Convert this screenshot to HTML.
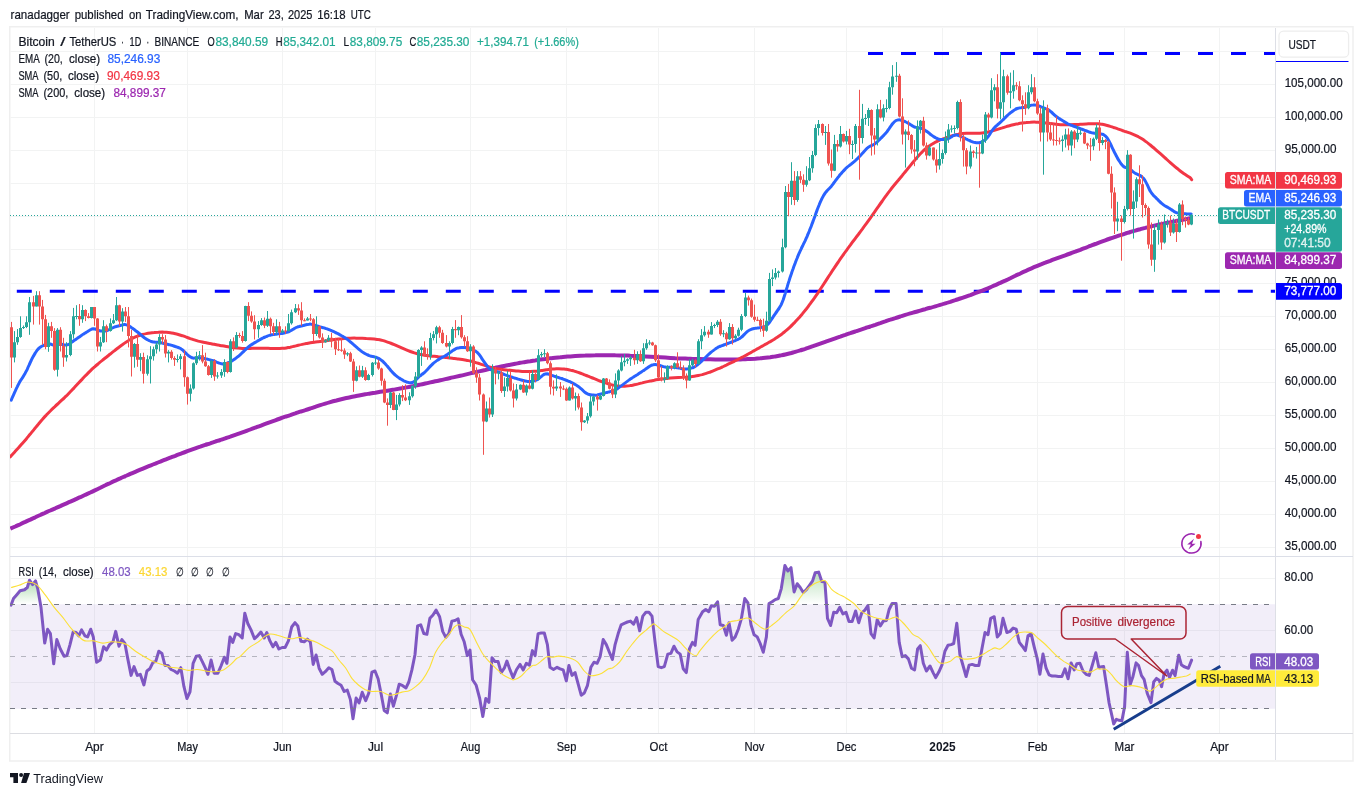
<!DOCTYPE html><html><head><meta charset="utf-8"><title>BTCUSDT</title>
<style>html,body{margin:0;padding:0;background:#fff}body{width:1363px;height:796px;overflow:hidden}svg{display:block;will-change:transform;opacity:0.999}text{font-family:"Liberation Sans",sans-serif}</style></head><body>
<svg width="1363" height="796" viewBox="0 0 1363 796">
<defs><linearGradient id="gg" x1="0" y1="0" x2="0" y2="1"><stop offset="0" stop-color="#4caf50" stop-opacity="0.45"/><stop offset="1" stop-color="#4caf50" stop-opacity="0"/></linearGradient>
<linearGradient id="rg" gradientUnits="userSpaceOnUse" x1="0" y1="708" x2="0" y2="726"><stop offset="0" stop-color="#ff5252" stop-opacity="0"/><stop offset="1" stop-color="#ff5252" stop-opacity="0.16"/></linearGradient><clipPath id="cm"><rect x="10" y="28" width="1265.5" height="528"/></clipPath><clipPath id="cr"><rect x="10" y="557" width="1265.5" height="176"/></clipPath></defs>
<rect width="1363" height="796" fill="#fff"/>
<rect x="9.75" y="26.75" width="1343.25" height="734.25" fill="#fff" stroke="#efefef" stroke-width="1.5"/>
<path d="M94.5 28V733M187.5 28V733M282.5 28V733M375.5 28V733M470.5 28V733M566.5 28V733M658.5 28V733M754.5 28V733M846.5 28V733M942.5 28V733M1037.5 28V733M1124.5 28V733M1219.5 28V733M10.5 547.5H1275M10.5 514.5H1275M10.5 481.5H1275M10.5 448.5H1275M10.5 415.5H1275M10.5 382.5H1275M10.5 349.5H1275M10.5 316.5H1275M10.5 283.5H1275M10.5 249.5H1275M10.5 216.5H1275M10.5 183.5H1275M10.5 150.5H1275M10.5 117.5H1275M10.5 84.5H1275M10.5 51.5H1275M10.5 578.5H1275M10.5 630.5H1275M10.5 682.5H1275" stroke="#f2f3f3" stroke-width="1" fill="none"/>
<rect x="10.5" y="604.2" width="1264.5" height="104.6" fill="#7e57c2" fill-opacity="0.1"/>
<g clip-path="url(#cm)">
<path d="M16.8 291.2H1275.5" stroke="#0000ff" stroke-width="3" stroke-dasharray="15 18" fill="none"/>
<path d="M868 53.5H1275.5" stroke="#0000ff" stroke-width="3" stroke-dasharray="15 18" fill="none"/>
<path d="M10.3 528.7C11.1 528.3 13.6 527.2 15.3 526.5C16.9 525.7 18.6 525.0 20.3 524.2C21.9 523.4 23.6 522.6 25.3 521.9C26.9 521.1 28.6 520.3 30.3 519.6C31.9 518.8 33.6 518.0 35.3 517.3C36.9 516.5 38.6 515.7 40.3 515.0C41.9 514.2 43.6 513.5 45.3 512.7C46.9 512.0 48.6 511.2 50.3 510.5C51.9 509.7 53.6 509.0 55.3 508.3C56.9 507.5 58.6 506.8 60.3 506.1C61.9 505.3 63.6 504.6 65.3 503.9C66.9 503.2 68.6 502.4 70.3 501.7C71.9 500.9 73.6 500.2 75.3 499.4C76.9 498.7 78.6 497.9 80.3 497.2C81.9 496.4 83.6 495.6 85.3 494.8C86.9 494.1 88.6 493.3 90.3 492.5C91.9 491.7 93.6 490.9 95.3 490.1C96.9 489.3 98.6 488.5 100.3 487.7C101.9 486.9 103.6 486.1 105.3 485.3C106.9 484.5 108.6 483.8 110.3 483.0C111.9 482.2 113.6 481.4 115.3 480.7C116.9 479.9 118.6 479.1 120.3 478.4C121.9 477.6 123.6 476.9 125.3 476.1C126.9 475.4 128.6 474.7 130.3 473.9C131.9 473.2 133.6 472.5 135.3 471.8C136.9 471.1 138.6 470.4 140.3 469.7C141.9 469.0 143.6 468.3 145.3 467.6C146.9 466.9 148.6 466.3 150.3 465.6C151.9 464.9 153.6 464.2 155.3 463.6C156.9 462.9 158.6 462.2 160.3 461.6C161.9 460.9 163.6 460.3 165.3 459.6C166.9 459.0 168.6 458.3 170.3 457.7C171.9 457.1 173.6 456.4 175.3 455.8C176.9 455.1 178.6 454.5 180.3 453.9C181.9 453.3 183.6 452.6 185.3 452.0C186.9 451.4 188.6 450.8 190.3 450.2C191.9 449.6 193.6 449.0 195.3 448.4C196.9 447.8 198.6 447.2 200.3 446.7C201.9 446.1 203.6 445.5 205.3 444.9C206.9 444.4 208.6 443.8 210.3 443.3C211.9 442.7 213.6 442.2 215.3 441.6C216.9 441.1 218.6 440.5 220.3 440.0C221.9 439.4 223.6 438.9 225.3 438.3C226.9 437.8 228.6 437.2 230.3 436.7C231.9 436.1 233.6 435.5 235.3 434.9C236.9 434.4 238.6 433.8 240.3 433.2C241.9 432.6 243.6 432.0 245.3 431.4C246.9 430.8 248.6 430.2 250.3 429.5C251.9 428.9 253.6 428.3 255.3 427.7C256.9 427.1 258.6 426.4 260.3 425.8C261.9 425.2 263.6 424.5 265.3 423.9C266.9 423.3 268.6 422.7 270.3 422.1C271.9 421.5 273.6 420.9 275.3 420.3C276.9 419.7 278.6 419.1 280.3 418.5C281.9 417.9 283.6 417.3 285.3 416.7C286.9 416.2 288.6 415.6 290.3 415.1C291.9 414.5 293.6 413.9 295.3 413.4C296.9 412.8 298.6 412.3 300.3 411.7C301.9 411.2 303.6 410.6 305.3 410.1C306.9 409.5 308.6 409.0 310.3 408.5C311.9 407.9 313.6 407.4 315.3 406.8C316.9 406.3 318.6 405.8 320.3 405.2C321.9 404.7 323.6 404.2 325.3 403.7C326.9 403.2 328.6 402.7 330.3 402.2C331.9 401.7 333.6 401.2 335.3 400.8C336.9 400.3 338.6 399.9 340.3 399.5C341.9 399.1 343.6 398.7 345.3 398.3C346.9 397.9 348.6 397.6 350.3 397.2C351.9 396.8 353.6 396.5 355.3 396.2C356.9 395.9 358.6 395.5 360.3 395.2C361.9 394.9 363.6 394.6 365.3 394.3C366.9 394.0 368.6 393.8 370.3 393.5C371.9 393.2 373.6 392.9 375.3 392.7C376.9 392.4 378.6 392.1 380.3 391.8C381.9 391.6 383.6 391.3 385.3 391.0C386.9 390.8 388.6 390.5 390.3 390.2C391.9 389.9 393.6 389.7 395.3 389.4C396.9 389.1 398.6 388.8 400.3 388.5C401.9 388.2 403.6 387.9 405.3 387.6C406.9 387.3 408.6 387.0 410.3 386.7C411.9 386.3 413.6 386.0 415.3 385.6C416.9 385.3 418.6 385.0 420.3 384.6C421.9 384.3 423.6 383.9 425.3 383.5C426.9 383.2 428.6 382.8 430.3 382.4C431.9 382.1 433.6 381.7 435.3 381.3C436.9 381.0 438.6 380.6 440.3 380.2C441.9 379.9 443.6 379.5 445.3 379.1C446.9 378.8 448.6 378.4 450.3 378.0C451.9 377.6 453.6 377.3 455.3 376.9C456.9 376.5 458.6 376.1 460.3 375.7C461.9 375.4 463.6 375.0 465.3 374.6C466.9 374.2 468.6 373.8 470.3 373.4C471.9 373.0 473.6 372.7 475.3 372.3C476.9 371.9 478.6 371.5 480.3 371.1C481.9 370.7 483.6 370.3 485.3 370.0C486.9 369.6 488.6 369.2 490.3 368.9C491.9 368.5 493.6 368.1 495.3 367.8C496.9 367.4 498.6 367.1 500.3 366.7C501.9 366.4 503.6 366.0 505.3 365.7C506.9 365.4 508.6 365.0 510.3 364.7C511.9 364.4 513.6 364.1 515.3 363.8C516.9 363.5 518.6 363.1 520.3 362.8C521.9 362.5 523.6 362.3 525.3 362.0C526.9 361.7 528.6 361.4 530.3 361.2C531.9 360.9 533.6 360.6 535.3 360.4C536.9 360.1 538.6 359.9 540.3 359.6C541.9 359.4 543.6 359.2 545.3 359.0C546.9 358.7 548.6 358.5 550.3 358.3C551.9 358.1 553.6 358.0 555.3 357.8C556.9 357.6 558.6 357.4 560.3 357.3C561.9 357.1 563.6 357.0 565.3 356.8C566.9 356.7 568.6 356.5 570.3 356.4C571.9 356.3 573.6 356.2 575.3 356.1C576.9 356.0 578.6 355.9 580.3 355.8C581.9 355.7 583.6 355.6 585.3 355.6C586.9 355.5 588.6 355.4 590.3 355.4C591.9 355.3 593.6 355.3 595.3 355.3C596.9 355.2 598.6 355.2 600.3 355.2C601.9 355.2 603.6 355.2 605.3 355.2C606.9 355.2 608.6 355.2 610.3 355.2C611.9 355.2 613.6 355.2 615.3 355.3C616.9 355.3 618.6 355.3 620.3 355.4C621.9 355.4 623.6 355.5 625.3 355.5C626.9 355.6 628.6 355.6 630.3 355.7C631.9 355.7 633.6 355.8 635.3 355.9C636.9 356.0 638.6 356.1 640.3 356.1C641.9 356.2 643.6 356.3 645.3 356.4C646.9 356.5 648.6 356.6 650.3 356.7C651.9 356.8 653.6 356.9 655.3 357.0C656.9 357.1 658.6 357.2 660.3 357.3C661.9 357.4 663.6 357.5 665.3 357.6C666.9 357.7 668.6 357.8 670.3 357.9C671.9 358.0 673.6 358.1 675.3 358.2C676.9 358.2 678.6 358.3 680.3 358.4C681.9 358.5 683.6 358.6 685.3 358.6C686.9 358.7 688.6 358.8 690.3 358.8C691.9 358.9 693.6 358.9 695.3 359.0C696.9 359.0 698.6 359.1 700.3 359.1C701.9 359.2 703.6 359.2 705.3 359.2C706.9 359.3 708.6 359.3 710.3 359.3C711.9 359.4 713.6 359.4 715.3 359.4C716.9 359.5 718.6 359.5 720.3 359.5C721.9 359.5 723.6 359.5 725.3 359.5C726.9 359.5 728.6 359.5 730.3 359.5C731.9 359.5 733.6 359.5 735.3 359.5C736.9 359.5 738.6 359.4 740.3 359.4C741.9 359.3 743.6 359.3 745.3 359.2C746.9 359.1 748.6 359.1 750.3 359.0C751.9 358.9 753.6 358.8 755.3 358.7C756.9 358.5 758.6 358.4 760.3 358.3C761.9 358.1 763.6 358.0 765.3 357.8C766.9 357.6 768.6 357.4 770.3 357.2C771.9 356.9 773.6 356.7 775.3 356.4C776.9 356.2 778.6 355.9 780.3 355.5C781.9 355.2 783.6 354.9 785.3 354.5C786.9 354.1 788.6 353.7 790.3 353.3C791.9 352.8 793.6 352.4 795.3 351.9C796.9 351.4 798.6 350.9 800.3 350.4C801.9 349.9 803.6 349.3 805.3 348.8C806.9 348.2 808.6 347.7 810.3 347.1C811.9 346.5 813.6 346.0 815.3 345.4C816.9 344.8 818.6 344.2 820.3 343.6C821.9 343.0 823.6 342.4 825.3 341.8C826.9 341.2 828.6 340.7 830.3 340.1C831.9 339.5 833.6 338.9 835.3 338.3C836.9 337.7 838.6 337.1 840.3 336.6C841.9 336.0 843.6 335.4 845.3 334.9C846.9 334.3 848.6 333.7 850.3 333.2C851.9 332.6 853.6 332.0 855.3 331.5C856.9 330.9 858.6 330.4 860.3 329.8C861.9 329.3 863.6 328.7 865.3 328.1C866.9 327.6 868.6 327.0 870.3 326.5C871.9 325.9 873.6 325.3 875.3 324.8C876.9 324.2 878.6 323.6 880.3 323.1C881.9 322.5 883.6 321.9 885.3 321.4C886.9 320.8 888.6 320.2 890.3 319.7C891.9 319.1 893.6 318.6 895.3 318.1C896.9 317.5 898.6 317.0 900.3 316.5C901.9 315.9 903.6 315.4 905.3 314.9C906.9 314.4 908.6 313.9 910.3 313.4C911.9 312.9 913.6 312.5 915.3 312.0C916.9 311.5 918.6 311.1 920.3 310.6C921.9 310.1 923.6 309.6 925.3 309.2C926.9 308.7 928.6 308.2 930.3 307.8C931.9 307.3 933.6 306.8 935.3 306.3C936.9 305.8 938.6 305.3 940.3 304.8C941.9 304.3 943.6 303.8 945.3 303.3C946.9 302.8 948.6 302.3 950.3 301.8C951.9 301.2 953.6 300.7 955.3 300.2C956.9 299.6 958.6 299.1 960.3 298.5C961.9 297.9 963.6 297.4 965.3 296.8C966.9 296.2 968.6 295.6 970.3 295.1C971.9 294.5 973.6 293.8 975.3 293.2C976.9 292.6 978.6 292.0 980.3 291.3C981.9 290.7 983.6 290.0 985.3 289.3C986.9 288.7 988.6 288.0 990.3 287.3C991.9 286.6 993.6 285.8 995.3 285.1C996.9 284.4 998.6 283.6 1000.3 282.9C1001.9 282.1 1003.6 281.3 1005.3 280.6C1006.9 279.8 1008.6 279.0 1010.3 278.2C1011.9 277.4 1013.6 276.6 1015.3 275.8C1016.9 275.0 1018.6 274.3 1020.3 273.5C1021.9 272.7 1023.6 271.9 1025.3 271.2C1026.9 270.4 1028.6 269.6 1030.3 268.9C1031.9 268.2 1033.6 267.4 1035.3 266.7C1036.9 266.0 1038.6 265.3 1040.3 264.6C1041.9 264.0 1043.6 263.3 1045.3 262.7C1046.9 262.0 1048.6 261.4 1050.3 260.8C1051.9 260.1 1053.6 259.5 1055.3 258.9C1056.9 258.3 1058.6 257.7 1060.3 257.1C1061.9 256.5 1063.6 255.9 1065.3 255.3C1066.9 254.7 1068.6 254.1 1070.3 253.5C1071.9 252.9 1073.6 252.3 1075.3 251.7C1076.9 251.0 1078.6 250.4 1080.3 249.8C1081.9 249.1 1083.6 248.5 1085.3 247.9C1086.9 247.2 1088.6 246.6 1090.3 245.9C1091.9 245.3 1093.6 244.6 1095.3 244.0C1096.9 243.4 1098.6 242.7 1100.3 242.1C1101.9 241.5 1103.6 240.9 1105.3 240.3C1106.9 239.7 1108.6 239.1 1110.3 238.5C1111.9 237.9 1113.6 237.4 1115.3 236.8C1116.9 236.2 1118.6 235.7 1120.3 235.2C1121.9 234.6 1123.6 234.1 1125.3 233.6C1126.9 233.1 1128.6 232.5 1130.3 232.0C1131.9 231.6 1133.6 231.1 1135.3 230.6C1136.9 230.1 1138.6 229.6 1140.3 229.2C1141.9 228.7 1143.6 228.3 1145.3 227.9C1146.9 227.4 1148.6 227.0 1150.3 226.6C1151.9 226.2 1153.6 225.8 1155.3 225.4C1156.9 225.1 1158.6 224.7 1160.3 224.3C1161.9 224.0 1163.6 223.6 1165.3 223.3C1166.9 222.9 1168.6 222.6 1170.3 222.3C1171.9 221.9 1173.6 221.6 1175.3 221.3C1176.9 220.9 1178.6 220.6 1180.3 220.3C1181.9 220.0 1183.6 219.6 1185.3 219.3C1186.9 219.0 1189.2 218.6 1190.3 218.3C1191.3 218.0 1191.4 217.6 1191.7 217.5" stroke="#9c27b0" stroke-width="4" fill="none" stroke-linejoin="round" stroke-linecap="butt"/>
<path d="M10.3 456.8C10.9 456.0 12.9 453.9 14.3 452.4C15.6 451.0 16.9 449.5 18.3 448.0C19.6 446.6 20.9 445.1 22.3 443.5C23.6 442.0 24.9 440.5 26.3 438.9C27.6 437.4 28.9 435.7 30.3 434.1C31.6 432.5 32.9 430.8 34.3 429.1C35.6 427.5 36.9 425.8 38.3 424.2C39.6 422.6 40.9 421.0 42.3 419.5C43.6 418.0 44.9 416.5 46.3 415.1C47.6 413.7 48.9 412.3 50.3 411.0C51.6 409.7 52.9 408.5 54.3 407.2C55.6 405.9 56.9 404.7 58.3 403.5C59.6 402.2 60.9 401.0 62.3 399.7C63.6 398.5 64.9 397.2 66.3 395.9C67.6 394.6 68.9 393.2 70.3 391.8C71.6 390.5 72.9 389.0 74.3 387.6C75.6 386.2 76.9 384.8 78.3 383.3C79.6 381.9 80.9 380.5 82.3 379.1C83.6 377.6 84.9 376.2 86.3 374.9C87.6 373.5 88.9 372.2 90.3 370.9C91.6 369.6 92.9 368.4 94.3 367.2C95.6 365.9 96.9 364.8 98.3 363.7C99.6 362.6 100.9 361.5 102.3 360.4C103.6 359.3 104.9 358.3 106.3 357.2C107.6 356.2 108.9 355.1 110.3 354.0C111.6 353.0 112.9 351.9 114.3 350.9C115.6 349.8 116.9 348.8 118.3 347.7C119.6 346.7 120.9 345.7 122.3 344.7C123.6 343.7 124.9 342.8 126.3 341.9C127.6 341.0 128.9 340.2 130.3 339.5C131.6 338.7 132.9 338.0 134.3 337.4C135.6 336.8 136.9 336.3 138.3 335.8C139.6 335.3 140.9 334.9 142.3 334.5C143.6 334.2 144.9 333.9 146.3 333.6C147.6 333.3 148.9 333.1 150.3 332.9C151.6 332.7 152.9 332.6 154.3 332.5C155.6 332.3 156.9 332.2 158.3 332.2C159.6 332.1 160.9 332.1 162.3 332.1C163.6 332.2 164.9 332.2 166.3 332.3C167.6 332.4 168.9 332.5 170.3 332.7C171.6 332.9 172.9 333.2 174.3 333.5C175.6 333.8 176.9 334.1 178.3 334.5C179.6 334.9 180.9 335.3 182.3 335.7C183.6 336.2 184.9 336.7 186.3 337.1C187.6 337.6 188.9 338.1 190.3 338.6C191.6 339.0 192.9 339.5 194.3 339.9C195.6 340.3 196.9 340.7 198.3 341.1C199.6 341.4 200.9 341.7 202.3 342.0C203.6 342.3 204.9 342.6 206.3 342.8C207.6 343.1 208.9 343.3 210.3 343.6C211.6 343.8 212.9 344.1 214.3 344.3C215.6 344.6 216.9 344.8 218.3 345.1C219.6 345.3 220.9 345.6 222.3 345.8C223.6 346.1 224.9 346.3 226.3 346.5C227.6 346.8 228.9 347.0 230.3 347.2C231.6 347.4 232.9 347.6 234.3 347.8C235.6 347.9 236.9 348.0 238.3 348.1C239.6 348.2 240.9 348.3 242.3 348.4C243.6 348.4 244.9 348.4 246.3 348.4C247.6 348.4 248.9 348.4 250.3 348.4C251.6 348.4 252.9 348.3 254.3 348.3C255.6 348.3 256.9 348.2 258.3 348.2C259.6 348.2 260.9 348.2 262.3 348.2C263.6 348.2 264.9 348.3 266.3 348.3C267.6 348.3 268.9 348.4 270.3 348.4C271.6 348.5 272.9 348.5 274.3 348.5C275.6 348.5 276.9 348.6 278.3 348.5C279.6 348.5 280.9 348.4 282.3 348.3C283.6 348.2 284.9 348.1 286.3 347.9C287.6 347.7 288.9 347.4 290.3 347.2C291.6 346.9 292.9 346.6 294.3 346.3C295.6 346.0 296.9 345.6 298.3 345.3C299.6 345.0 300.9 344.7 302.3 344.4C303.6 344.1 304.9 343.8 306.3 343.5C307.6 343.3 308.9 343.0 310.3 342.8C311.6 342.6 312.9 342.4 314.3 342.2C315.6 342.1 316.9 341.9 318.3 341.7C319.6 341.6 320.9 341.4 322.3 341.3C323.6 341.1 324.9 340.9 326.3 340.7C327.6 340.6 328.9 340.4 330.3 340.2C331.6 340.0 332.9 339.8 334.3 339.6C335.6 339.4 336.9 339.3 338.3 339.1C339.6 338.9 340.9 338.8 342.3 338.7C343.6 338.5 344.9 338.4 346.3 338.3C347.6 338.3 348.9 338.2 350.3 338.2C351.6 338.1 352.9 338.1 354.3 338.1C355.6 338.1 356.9 338.2 358.3 338.2C359.6 338.2 360.9 338.3 362.3 338.3C363.6 338.3 364.9 338.4 366.3 338.5C367.6 338.5 368.9 338.6 370.3 338.7C371.6 338.8 372.9 338.9 374.3 339.0C375.6 339.2 376.9 339.3 378.3 339.6C379.6 339.8 380.9 340.1 382.3 340.4C383.6 340.7 384.9 341.1 386.3 341.6C387.6 342.0 388.9 342.5 390.3 343.0C391.6 343.5 392.9 344.0 394.3 344.6C395.6 345.2 396.9 345.8 398.3 346.4C399.6 347.0 400.9 347.6 402.3 348.2C403.6 348.8 404.9 349.4 406.3 349.9C407.6 350.5 408.9 351.0 410.3 351.5C411.6 352.0 412.9 352.5 414.3 352.9C415.6 353.3 416.9 353.6 418.3 354.0C419.6 354.3 420.9 354.6 422.3 354.8C423.6 355.1 424.9 355.3 426.3 355.4C427.6 355.6 428.9 355.8 430.3 355.9C431.6 356.1 432.9 356.2 434.3 356.3C435.6 356.4 436.9 356.5 438.3 356.7C439.6 356.8 440.9 356.9 442.3 357.1C443.6 357.2 444.9 357.4 446.3 357.5C447.6 357.7 448.9 357.8 450.3 358.0C451.6 358.2 452.9 358.3 454.3 358.5C455.6 358.7 456.9 358.8 458.3 359.0C459.6 359.2 460.9 359.4 462.3 359.6C463.6 359.8 464.9 360.0 466.3 360.2C467.6 360.5 468.9 360.7 470.3 361.0C471.6 361.3 472.9 361.7 474.3 362.1C475.6 362.5 476.9 362.9 478.3 363.3C479.6 363.7 480.9 364.2 482.3 364.6C483.6 365.0 484.9 365.5 486.3 365.9C487.6 366.4 488.9 366.8 490.3 367.1C491.6 367.5 492.9 367.8 494.3 368.1C495.6 368.4 496.9 368.7 498.3 368.9C499.6 369.1 500.9 369.3 502.3 369.5C503.6 369.7 504.9 369.8 506.3 369.9C507.6 370.1 508.9 370.2 510.3 370.3C511.6 370.5 512.9 370.6 514.3 370.7C515.6 370.9 516.9 371.0 518.3 371.1C519.6 371.2 520.9 371.3 522.3 371.4C523.6 371.5 524.9 371.5 526.3 371.6C527.6 371.6 528.9 371.6 530.3 371.6C531.6 371.5 532.9 371.4 534.3 371.3C535.6 371.2 536.9 371.1 538.3 370.9C539.6 370.8 540.9 370.6 542.3 370.4C543.6 370.2 544.9 370.0 546.3 369.8C547.6 369.6 548.9 369.5 550.3 369.3C551.6 369.2 552.9 369.0 554.3 368.9C555.6 368.9 556.9 368.8 558.3 368.8C559.6 368.8 560.9 368.8 562.3 368.9C563.6 369.0 564.9 369.2 566.3 369.3C567.6 369.5 568.9 369.8 570.3 370.1C571.6 370.4 572.9 370.8 574.3 371.1C575.6 371.5 576.9 372.0 578.3 372.4C579.6 372.9 580.9 373.4 582.3 373.9C583.6 374.4 584.9 375.0 586.3 375.5C587.6 376.0 588.9 376.6 590.3 377.1C591.6 377.6 592.9 378.2 594.3 378.7C595.6 379.2 596.9 379.7 598.3 380.3C599.6 380.8 600.9 381.3 602.3 381.8C603.6 382.2 604.9 382.7 606.3 383.1C607.6 383.6 608.9 384.0 610.3 384.4C611.6 384.7 612.9 385.1 614.3 385.4C615.6 385.6 616.9 385.9 618.3 386.0C619.6 386.2 620.9 386.3 622.3 386.3C623.6 386.3 624.9 386.3 626.3 386.1C627.6 386.0 628.9 385.9 630.3 385.6C631.6 385.4 632.9 385.1 634.3 384.8C635.6 384.5 636.9 384.2 638.3 383.9C639.6 383.5 640.9 383.2 642.3 382.9C643.6 382.5 644.9 382.2 646.3 381.9C647.6 381.6 648.9 381.3 650.3 381.0C651.6 380.8 652.9 380.5 654.3 380.3C655.6 380.0 656.9 379.8 658.3 379.6C659.6 379.4 660.9 379.2 662.3 379.0C663.6 378.8 664.9 378.7 666.3 378.5C667.6 378.3 668.9 378.2 670.3 378.0C671.6 377.9 672.9 377.8 674.3 377.7C675.6 377.6 676.9 377.5 678.3 377.4C679.6 377.3 680.9 377.2 682.3 377.2C683.6 377.1 684.9 377.0 686.3 377.0C687.6 376.9 688.9 376.8 690.3 376.7C691.6 376.5 692.9 376.4 694.3 376.2C695.6 376.0 696.9 375.8 698.3 375.5C699.6 375.2 700.9 374.9 702.3 374.6C703.6 374.2 704.9 373.8 706.3 373.4C707.6 373.0 708.9 372.5 710.3 372.0C711.6 371.5 712.9 371.0 714.3 370.4C715.6 369.9 716.9 369.3 718.3 368.7C719.6 368.2 720.9 367.6 722.3 367.0C723.6 366.4 724.9 365.7 726.3 365.1C727.6 364.5 728.9 363.9 730.3 363.2C731.6 362.6 732.9 361.9 734.3 361.3C735.6 360.6 736.9 360.0 738.3 359.3C739.6 358.6 740.9 357.9 742.3 357.2C743.6 356.5 744.9 355.8 746.3 355.1C747.6 354.3 748.9 353.6 750.3 352.9C751.6 352.1 752.9 351.4 754.3 350.6C755.6 349.9 756.9 349.1 758.3 348.4C759.6 347.6 760.9 346.9 762.3 346.1C763.6 345.4 764.9 344.6 766.3 343.9C767.6 343.1 768.9 342.4 770.3 341.6C771.6 340.8 772.9 340.0 774.3 339.2C775.6 338.3 776.9 337.5 778.3 336.5C779.6 335.6 780.9 334.7 782.3 333.7C783.6 332.6 784.9 331.6 786.3 330.4C787.6 329.3 788.9 328.1 790.3 326.8C791.6 325.6 792.9 324.2 794.3 322.9C795.6 321.5 796.9 320.0 798.3 318.5C799.6 317.1 800.9 315.5 802.3 313.9C803.6 312.3 804.9 310.7 806.3 309.0C807.6 307.3 808.9 305.5 810.3 303.7C811.6 301.9 812.9 300.0 814.3 298.1C815.6 296.2 816.9 294.3 818.3 292.3C819.6 290.3 820.9 288.3 822.3 286.2C823.6 284.2 824.9 282.2 826.3 280.1C827.6 278.1 828.9 276.0 830.3 274.0C831.6 271.9 832.9 269.9 834.3 267.9C835.6 265.9 836.9 263.9 838.3 262.0C839.6 260.0 840.9 258.1 842.3 256.2C843.6 254.3 844.9 252.4 846.3 250.6C847.6 248.7 848.9 246.9 850.3 245.1C851.6 243.3 852.9 241.5 854.3 239.8C855.6 238.0 856.9 236.2 858.3 234.5C859.6 232.7 860.9 230.9 862.3 229.1C863.6 227.3 864.9 225.5 866.3 223.7C867.6 221.8 868.9 220.0 870.3 218.1C871.6 216.2 872.9 214.3 874.3 212.4C875.6 210.5 876.9 208.6 878.3 206.7C879.6 204.8 880.9 202.9 882.3 201.0C883.6 199.1 884.9 197.2 886.3 195.4C887.6 193.6 888.9 191.8 890.3 190.1C891.6 188.3 892.9 186.7 894.3 185.0C895.6 183.4 896.9 181.8 898.3 180.2C899.6 178.6 900.9 177.0 902.3 175.4C903.6 173.8 904.9 172.1 906.3 170.5C907.6 168.9 908.9 167.3 910.3 165.6C911.6 164.0 912.9 162.4 914.3 160.8C915.6 159.2 916.9 157.5 918.3 156.0C919.6 154.5 920.9 153.1 922.3 151.8C923.6 150.4 924.9 149.2 926.3 148.1C927.6 147.0 928.9 146.0 930.3 145.2C931.6 144.3 932.9 143.5 934.3 142.8C935.6 142.0 936.9 141.4 938.3 140.8C939.6 140.2 940.9 139.7 942.3 139.2C943.6 138.7 944.9 138.2 946.3 137.7C947.6 137.3 948.9 136.8 950.3 136.4C951.6 136.0 952.9 135.5 954.3 135.2C955.6 134.8 956.9 134.5 958.3 134.3C959.6 134.0 960.9 133.8 962.3 133.6C963.6 133.5 964.9 133.4 966.3 133.3C967.6 133.2 968.9 133.2 970.3 133.2C971.6 133.2 972.9 133.2 974.3 133.2C975.6 133.2 976.9 133.3 978.3 133.2C979.6 133.2 980.9 133.1 982.3 133.0C983.6 132.8 984.9 132.7 986.3 132.4C987.6 132.2 988.9 131.9 990.3 131.5C991.6 131.2 992.9 130.8 994.3 130.4C995.6 130.0 996.9 129.6 998.3 129.1C999.6 128.7 1000.9 128.3 1002.3 127.9C1003.6 127.4 1004.9 127.0 1006.3 126.6C1007.6 126.2 1008.9 125.9 1010.3 125.5C1011.6 125.2 1012.9 124.8 1014.3 124.5C1015.6 124.2 1016.9 123.9 1018.3 123.7C1019.6 123.4 1020.9 123.2 1022.3 123.0C1023.6 122.8 1024.9 122.6 1026.3 122.5C1027.6 122.3 1028.9 122.2 1030.3 122.2C1031.6 122.1 1032.9 122.1 1034.3 122.1C1035.6 122.1 1036.9 122.2 1038.3 122.2C1039.6 122.3 1040.9 122.5 1042.3 122.6C1043.6 122.7 1044.9 122.9 1046.3 123.1C1047.6 123.3 1048.9 123.5 1050.3 123.6C1051.6 123.8 1052.9 124.0 1054.3 124.1C1055.6 124.3 1056.9 124.4 1058.3 124.5C1059.6 124.6 1060.9 124.7 1062.3 124.7C1063.6 124.8 1064.9 124.8 1066.3 124.8C1067.6 124.8 1068.9 124.8 1070.3 124.7C1071.6 124.7 1072.9 124.7 1074.3 124.6C1075.6 124.6 1076.9 124.5 1078.3 124.4C1079.6 124.3 1080.9 124.3 1082.3 124.2C1083.6 124.1 1084.9 124.0 1086.3 123.9C1087.6 123.8 1088.9 123.8 1090.3 123.7C1091.6 123.7 1092.9 123.6 1094.3 123.7C1095.6 123.7 1096.9 123.7 1098.3 123.8C1099.6 123.9 1100.9 124.1 1102.3 124.3C1103.6 124.6 1104.9 124.9 1106.3 125.2C1107.6 125.5 1108.9 125.9 1110.3 126.4C1111.6 126.8 1112.9 127.3 1114.3 127.7C1115.6 128.2 1116.9 128.7 1118.3 129.1C1119.6 129.6 1120.9 130.0 1122.3 130.5C1123.6 130.9 1124.9 131.4 1126.3 131.8C1127.6 132.3 1128.9 132.7 1130.3 133.2C1131.6 133.7 1132.9 134.2 1134.3 134.8C1135.6 135.4 1136.9 136.0 1138.3 136.7C1139.6 137.4 1140.9 138.2 1142.3 139.1C1143.6 139.9 1144.9 140.9 1146.3 141.9C1147.6 142.8 1148.9 143.9 1150.3 145.0C1151.6 146.1 1152.9 147.2 1154.3 148.3C1155.6 149.5 1156.9 150.7 1158.3 151.9C1159.6 153.0 1160.9 154.2 1162.3 155.4C1163.6 156.6 1164.9 157.8 1166.3 159.0C1167.6 160.2 1168.9 161.4 1170.3 162.6C1171.6 163.8 1172.9 164.9 1174.3 166.1C1175.6 167.2 1176.9 168.3 1178.3 169.3C1179.6 170.4 1180.9 171.5 1182.3 172.5C1183.6 173.5 1184.9 174.3 1186.3 175.2C1187.6 176.1 1189.4 177.1 1190.3 177.8C1191.2 178.6 1191.4 179.4 1191.7 179.7" stroke="#f23645" stroke-width="3" fill="none" stroke-linejoin="round" stroke-linecap="round"/>
<path d="M11.2 400.2C11.5 399.4 12.5 397.2 13.2 395.7C13.8 394.2 14.5 392.6 15.2 391.1C15.8 389.7 16.5 388.2 17.2 386.8C17.8 385.4 18.5 384.1 19.2 382.9C19.8 381.7 20.5 380.6 21.2 379.6C21.8 378.5 22.5 377.6 23.2 376.6C23.8 375.5 24.5 374.4 25.2 373.2C25.8 372.0 26.5 370.7 27.2 369.3C27.8 367.9 28.5 366.3 29.2 364.9C29.8 363.4 30.5 361.9 31.2 360.5C31.8 359.1 32.5 357.8 33.2 356.6C33.8 355.3 34.5 354.2 35.2 353.1C35.8 352.0 36.5 351.0 37.2 350.1C37.8 349.3 38.5 348.6 39.2 348.0C39.8 347.4 40.5 346.9 41.2 346.6C41.8 346.2 42.5 346.0 43.2 345.7C43.8 345.4 44.5 345.0 45.2 344.7C45.8 344.4 46.5 344.1 47.2 343.9C47.8 343.8 48.5 343.7 49.2 343.8C49.8 343.9 50.5 344.1 51.2 344.3C51.8 344.5 52.5 344.8 53.2 345.0C53.8 345.1 54.5 345.2 55.2 345.2C55.8 345.1 56.5 345.0 57.2 344.9C57.8 344.7 58.5 344.5 59.2 344.4C59.8 344.3 60.5 344.3 61.2 344.3C61.8 344.4 62.5 344.5 63.2 344.6C63.8 344.7 64.5 345.0 65.2 345.1C65.8 345.1 66.5 345.1 67.2 344.9C67.8 344.7 68.5 344.4 69.2 344.1C69.8 343.7 70.5 343.1 71.2 342.6C71.8 342.2 72.5 341.7 73.2 341.2C73.8 340.8 74.5 340.3 75.2 339.8C75.8 339.3 76.5 338.9 77.2 338.4C77.8 337.9 78.5 337.5 79.2 337.0C79.8 336.5 80.5 336.1 81.2 335.6C81.8 335.2 82.5 334.7 83.2 334.3C83.8 333.8 84.5 333.4 85.2 333.0C85.8 332.5 86.5 332.1 87.2 331.7C87.8 331.3 88.5 330.9 89.2 330.5C89.8 330.1 90.5 329.6 91.2 329.3C91.8 329.0 92.5 328.9 93.2 328.8C93.8 328.8 94.5 328.9 95.2 329.0C95.8 329.2 96.5 329.7 97.2 330.0C97.8 330.2 98.5 330.5 99.2 330.7C99.8 330.8 100.5 331.0 101.2 331.0C101.8 331.1 102.5 331.1 103.2 331.1C103.8 331.1 104.5 331.1 105.2 331.0C105.8 330.9 106.5 330.7 107.2 330.5C107.8 330.2 108.5 329.9 109.2 329.6C109.8 329.3 110.5 328.8 111.2 328.5C111.8 328.2 112.5 327.8 113.2 327.6C113.8 327.3 114.5 327.0 115.2 326.8C115.8 326.6 116.5 326.5 117.2 326.3C117.8 326.1 118.5 326.0 119.2 325.8C119.8 325.6 120.5 325.4 121.2 325.3C121.8 325.1 122.5 324.8 123.2 324.7C123.8 324.6 124.5 324.5 125.2 324.6C125.8 324.7 126.5 324.8 127.2 325.1C127.8 325.3 128.5 325.7 129.2 326.1C129.8 326.5 130.5 326.9 131.2 327.4C131.8 327.8 132.5 328.3 133.2 328.8C133.8 329.2 134.5 329.7 135.2 330.3C135.8 330.8 136.5 331.3 137.2 331.8C137.8 332.3 138.5 332.9 139.2 333.4C139.8 334.0 140.5 334.6 141.2 335.1C141.8 335.7 142.5 336.3 143.2 336.9C143.8 337.4 144.5 337.9 145.2 338.4C145.8 338.8 146.5 339.3 147.2 339.6C147.8 340.0 148.5 340.3 149.2 340.6C149.8 340.9 150.5 341.3 151.2 341.5C151.8 341.7 152.5 341.9 153.2 342.0C153.8 342.1 154.5 342.1 155.2 342.2C155.8 342.2 156.5 342.1 157.2 342.2C157.8 342.2 158.5 342.2 159.2 342.3C159.8 342.4 160.5 342.5 161.2 342.7C161.8 342.8 162.5 343.0 163.2 343.2C163.8 343.3 164.5 343.5 165.2 343.7C165.8 343.9 166.5 344.0 167.2 344.2C167.8 344.4 168.5 344.5 169.2 344.7C169.8 344.9 170.5 345.1 171.2 345.2C171.8 345.4 172.5 345.6 173.2 345.8C173.8 346.0 174.5 346.2 175.2 346.5C175.8 346.7 176.5 346.9 177.2 347.1C177.8 347.4 178.5 347.5 179.2 347.8C179.8 348.1 180.5 348.4 181.2 348.9C181.8 349.3 182.5 349.8 183.2 350.4C183.8 351.1 184.5 351.8 185.2 352.5C185.8 353.2 186.5 353.8 187.2 354.5C187.8 355.1 188.5 355.7 189.2 356.2C189.8 356.7 190.5 357.1 191.2 357.4C191.8 357.7 192.5 357.9 193.2 358.1C193.8 358.2 194.5 358.1 195.2 358.1C195.8 358.0 196.5 357.8 197.2 357.8C197.8 357.7 198.5 357.7 199.2 357.7C199.8 357.7 200.5 357.8 201.2 357.9C201.8 357.9 202.5 358.1 203.2 358.2C203.8 358.4 204.5 358.5 205.2 358.7C205.8 358.8 206.5 359.0 207.2 359.1C207.8 359.3 208.5 359.4 209.2 359.6C209.8 359.8 210.5 359.9 211.2 360.1C211.8 360.3 212.5 360.5 213.2 360.7C213.8 360.9 214.5 361.2 215.2 361.5C215.8 361.7 216.5 362.1 217.2 362.4C217.8 362.6 218.5 362.9 219.2 363.2C219.8 363.4 220.5 363.6 221.2 363.7C221.8 363.8 222.5 364.0 223.2 364.0C223.8 364.0 224.5 363.9 225.2 363.8C225.8 363.7 226.5 363.5 227.2 363.3C227.8 363.0 228.5 362.7 229.2 362.4C229.8 362.0 230.5 361.7 231.2 361.3C231.8 361.0 232.5 360.6 233.2 360.1C233.8 359.7 234.5 359.2 235.2 358.7C235.8 358.3 236.5 357.8 237.2 357.2C237.8 356.7 238.5 356.2 239.2 355.6C239.8 355.1 240.5 354.5 241.2 353.8C241.8 353.2 242.5 352.5 243.2 351.9C243.8 351.2 244.5 350.5 245.2 349.9C245.8 349.2 246.5 348.6 247.2 348.0C247.8 347.4 248.5 346.8 249.2 346.3C249.8 345.8 250.5 345.3 251.2 344.9C251.8 344.4 252.5 344.0 253.2 343.6C253.8 343.2 254.5 342.8 255.2 342.4C255.8 342.0 256.5 341.6 257.2 341.2C257.8 340.8 258.5 340.4 259.2 340.1C259.8 339.7 260.5 339.3 261.2 338.9C261.8 338.6 262.5 338.2 263.2 337.9C263.8 337.6 264.5 337.3 265.2 337.0C265.8 336.7 266.5 336.4 267.2 336.2C267.8 335.9 268.5 335.6 269.2 335.4C269.8 335.2 270.5 335.0 271.2 334.9C271.8 334.7 272.5 334.6 273.2 334.5C273.8 334.4 274.5 334.3 275.2 334.2C275.8 334.1 276.5 334.0 277.2 333.9C277.8 333.8 278.5 333.8 279.2 333.7C279.8 333.6 280.5 333.6 281.2 333.6C281.8 333.5 282.5 333.4 283.2 333.3C283.8 333.2 284.5 333.0 285.2 332.8C285.8 332.7 286.5 332.4 287.2 332.2C287.8 332.0 288.5 331.8 289.2 331.5C289.8 331.2 290.5 330.9 291.2 330.5C291.8 330.2 292.5 329.7 293.2 329.3C293.8 328.8 294.5 328.4 295.2 328.0C295.8 327.6 296.5 327.3 297.2 327.1C297.8 326.8 298.5 326.6 299.2 326.5C299.8 326.3 300.5 326.1 301.2 326.0C301.8 325.8 302.5 325.7 303.2 325.5C303.8 325.3 304.5 325.2 305.2 325.0C305.8 324.9 306.5 324.7 307.2 324.6C307.8 324.4 308.5 324.2 309.2 324.2C309.8 324.1 310.5 324.1 311.2 324.2C311.8 324.2 312.5 324.4 313.2 324.6C313.8 324.8 314.5 325.1 315.2 325.3C315.8 325.6 316.5 325.8 317.2 326.0C317.8 326.2 318.5 326.4 319.2 326.6C319.8 326.8 320.5 327.0 321.2 327.2C321.8 327.4 322.5 327.5 323.2 327.7C323.8 327.9 324.5 328.1 325.2 328.3C325.8 328.5 326.5 328.7 327.2 328.9C327.8 329.2 328.5 329.4 329.2 329.7C329.8 330.0 330.5 330.2 331.2 330.5C331.8 330.8 332.5 331.1 333.2 331.4C333.8 331.7 334.5 332.0 335.2 332.4C335.8 332.7 336.5 333.0 337.2 333.3C337.8 333.7 338.5 334.0 339.2 334.4C339.8 334.7 340.5 335.1 341.2 335.5C341.8 335.8 342.5 336.2 343.2 336.6C343.8 337.1 344.5 337.5 345.2 337.9C345.8 338.3 346.5 338.8 347.2 339.3C347.8 339.7 348.5 340.3 349.2 340.8C349.8 341.3 350.5 341.9 351.2 342.5C351.8 343.1 352.5 343.7 353.2 344.2C353.8 344.8 354.5 345.4 355.2 346.0C355.8 346.6 356.5 347.2 357.2 347.7C357.8 348.3 358.5 348.9 359.2 349.5C359.8 350.1 360.5 350.6 361.2 351.1C361.8 351.6 362.5 352.1 363.2 352.5C363.8 352.9 364.5 353.3 365.2 353.7C365.8 354.0 366.5 354.4 367.2 354.7C367.8 355.0 368.5 355.3 369.2 355.6C369.8 355.8 370.5 356.0 371.2 356.2C371.8 356.3 372.5 356.4 373.2 356.6C373.8 356.7 374.5 356.9 375.2 357.1C375.8 357.3 376.5 357.5 377.2 357.8C377.8 358.1 378.5 358.4 379.2 358.7C379.8 359.1 380.5 359.6 381.2 360.1C381.8 360.6 382.5 361.1 383.2 361.7C383.8 362.4 384.5 363.1 385.2 363.8C385.8 364.5 386.5 365.2 387.2 366.0C387.8 366.8 388.5 367.6 389.2 368.4C389.8 369.2 390.5 370.1 391.2 370.9C391.8 371.7 392.5 372.4 393.2 373.1C393.8 373.8 394.5 374.4 395.2 375.0C395.8 375.6 396.5 376.1 397.2 376.6C397.8 377.1 398.5 377.6 399.2 378.0C399.8 378.5 400.5 378.9 401.2 379.3C401.8 379.7 402.5 380.1 403.2 380.4C403.8 380.8 404.5 381.1 405.2 381.4C405.8 381.7 406.5 382.0 407.2 382.2C407.8 382.4 408.5 382.6 409.2 382.7C409.8 382.8 410.5 382.9 411.2 382.8C411.8 382.7 412.5 382.5 413.2 382.1C413.8 381.7 414.5 381.2 415.2 380.6C415.8 380.0 416.5 379.1 417.2 378.5C417.8 377.8 418.5 377.2 419.2 376.6C419.8 376.1 420.5 375.6 421.2 375.0C421.8 374.5 422.5 374.1 423.2 373.5C423.8 373.0 424.5 372.4 425.2 371.8C425.8 371.2 426.5 370.5 427.2 369.8C427.8 369.1 428.5 368.3 429.2 367.5C429.8 366.8 430.5 366.1 431.2 365.4C431.8 364.7 432.5 364.1 433.2 363.5C433.8 362.9 434.5 362.4 435.2 361.9C435.8 361.4 436.5 360.9 437.2 360.4C437.8 359.9 438.5 359.5 439.2 359.1C439.8 358.6 440.5 358.3 441.2 357.9C441.8 357.5 442.5 357.2 443.2 356.9C443.8 356.5 444.5 356.2 445.2 355.8C445.8 355.4 446.5 355.0 447.2 354.6C447.8 354.2 448.5 353.7 449.2 353.2C449.8 352.8 450.5 352.3 451.2 351.8C451.8 351.3 452.5 350.8 453.2 350.3C453.8 349.9 454.5 349.5 455.2 349.1C455.8 348.8 456.5 348.5 457.2 348.2C457.8 348.0 458.5 347.8 459.2 347.7C459.8 347.6 460.5 347.5 461.2 347.5C461.8 347.5 462.5 347.4 463.2 347.5C463.8 347.5 464.5 347.6 465.2 347.6C465.8 347.7 466.5 347.8 467.2 347.9C467.8 348.0 468.5 348.1 469.2 348.3C469.8 348.4 470.5 348.7 471.2 348.9C471.8 349.2 472.5 349.6 473.2 349.9C473.8 350.2 474.5 350.6 475.2 351.0C475.8 351.4 476.5 351.8 477.2 352.4C477.8 353.0 478.5 353.8 479.2 354.6C479.8 355.4 480.5 356.4 481.2 357.4C481.8 358.4 482.5 359.5 483.2 360.5C483.8 361.5 484.5 362.5 485.2 363.4C485.8 364.3 486.5 365.2 487.2 366.0C487.8 366.9 488.5 367.6 489.2 368.3C489.8 368.9 490.5 369.4 491.2 369.8C491.8 370.2 492.5 370.5 493.2 370.7C493.8 370.9 494.5 371.0 495.2 371.2C495.8 371.4 496.5 371.5 497.2 371.7C497.8 371.9 498.5 372.2 499.2 372.4C499.8 372.6 500.5 372.9 501.2 373.2C501.8 373.5 502.5 373.8 503.2 374.0C503.8 374.3 504.5 374.6 505.2 374.9C505.8 375.1 506.5 375.4 507.2 375.6C507.8 375.8 508.5 376.1 509.2 376.3C509.8 376.5 510.5 376.7 511.2 376.9C511.8 377.2 512.5 377.4 513.2 377.6C513.8 377.8 514.5 378.0 515.2 378.2C515.8 378.4 516.5 378.6 517.2 378.8C517.8 379.0 518.5 379.2 519.2 379.4C519.8 379.6 520.5 379.8 521.2 380.0C521.8 380.2 522.5 380.4 523.2 380.5C523.8 380.7 524.5 380.8 525.2 381.0C525.8 381.1 526.5 381.2 527.2 381.4C527.8 381.5 528.5 381.6 529.2 381.6C529.8 381.7 530.5 381.6 531.2 381.6C531.8 381.5 532.5 381.3 533.2 381.1C533.8 380.9 534.5 380.7 535.2 380.5C535.8 380.2 536.5 380.0 537.2 379.7C537.8 379.3 538.5 378.9 539.2 378.4C539.8 377.9 540.5 377.3 541.2 376.7C541.8 376.1 542.5 375.4 543.2 375.0C543.8 374.5 544.5 374.2 545.2 374.0C545.8 373.8 546.5 373.8 547.2 373.8C547.8 373.9 548.5 374.1 549.2 374.3C549.8 374.5 550.5 374.8 551.2 375.0C551.8 375.3 552.5 375.6 553.2 375.8C553.8 376.0 554.5 376.3 555.2 376.5C555.8 376.7 556.5 377.0 557.2 377.2C557.8 377.4 558.5 377.6 559.2 377.8C559.8 378.0 560.5 378.2 561.2 378.4C561.8 378.6 562.5 378.8 563.2 379.1C563.8 379.3 564.5 379.6 565.2 379.8C565.8 380.1 566.5 380.3 567.2 380.6C567.8 380.9 568.5 381.1 569.2 381.4C569.8 381.7 570.5 382.0 571.2 382.4C571.8 382.7 572.5 383.0 573.2 383.4C573.8 383.7 574.5 384.1 575.2 384.5C575.8 384.9 576.5 385.2 577.2 385.7C577.8 386.1 578.5 386.6 579.2 387.1C579.8 387.6 580.5 388.2 581.2 388.8C581.8 389.4 582.5 390.1 583.2 390.7C583.8 391.3 584.5 392.0 585.2 392.5C585.8 393.0 586.5 393.4 587.2 393.7C587.8 394.1 588.5 394.3 589.2 394.5C589.8 394.7 590.5 394.7 591.2 394.8C591.8 395.0 592.5 395.1 593.2 395.1C593.8 395.2 594.5 395.2 595.2 395.2C595.8 395.1 596.5 395.0 597.2 394.9C597.8 394.8 598.5 394.6 599.2 394.4C599.8 394.3 600.5 394.1 601.2 393.9C601.8 393.8 602.5 393.6 603.2 393.4C603.8 393.3 604.5 393.1 605.2 392.9C605.8 392.8 606.5 392.6 607.2 392.4C607.8 392.3 608.5 392.1 609.2 391.9C609.8 391.8 610.5 391.6 611.2 391.4C611.8 391.3 612.5 391.2 613.2 390.9C613.8 390.7 614.5 390.4 615.2 390.1C615.8 389.8 616.5 389.4 617.2 388.9C617.8 388.5 618.5 387.9 619.2 387.4C619.8 386.9 620.5 386.4 621.2 385.9C621.8 385.4 622.5 384.9 623.2 384.4C623.8 383.9 624.5 383.4 625.2 382.9C625.8 382.4 626.5 381.9 627.2 381.4C627.8 380.9 628.5 380.4 629.2 379.9C629.8 379.5 630.5 379.0 631.2 378.5C631.8 378.1 632.5 377.6 633.2 377.2C633.8 376.8 634.5 376.4 635.2 375.9C635.8 375.5 636.5 375.1 637.2 374.7C637.8 374.3 638.5 373.8 639.2 373.4C639.8 373.0 640.5 372.5 641.2 372.1C641.8 371.7 642.5 371.2 643.2 370.8C643.8 370.3 644.5 369.9 645.2 369.4C645.8 368.9 646.5 368.5 647.2 368.0C647.8 367.5 648.5 367.0 649.2 366.6C649.8 366.1 650.5 365.7 651.2 365.4C651.8 365.1 652.5 364.8 653.2 364.7C653.8 364.6 654.5 364.5 655.2 364.5C655.8 364.6 656.5 364.7 657.2 364.9C657.8 365.0 658.5 365.1 659.2 365.3C659.8 365.5 660.5 365.7 661.2 366.0C661.8 366.2 662.5 366.4 663.2 366.6C663.8 366.8 664.5 367.0 665.2 367.1C665.8 367.2 666.5 367.3 667.2 367.3C667.8 367.4 668.5 367.3 669.2 367.3C669.8 367.3 670.5 367.3 671.2 367.3C671.8 367.3 672.5 367.3 673.2 367.3C673.8 367.4 674.5 367.4 675.2 367.5C675.8 367.5 676.5 367.6 677.2 367.7C677.8 367.8 678.5 367.9 679.2 368.1C679.8 368.2 680.5 368.3 681.2 368.5C681.8 368.6 682.5 368.8 683.2 368.9C683.8 369.0 684.5 369.0 685.2 369.0C685.8 369.1 686.5 369.0 687.2 368.9C687.8 368.8 688.5 368.7 689.2 368.5C689.8 368.4 690.5 368.3 691.2 368.1C691.8 367.9 692.5 367.8 693.2 367.5C693.8 367.3 694.5 366.9 695.2 366.5C695.8 366.1 696.5 365.6 697.2 365.1C697.8 364.6 698.5 364.0 699.2 363.4C699.8 362.8 700.5 362.2 701.2 361.6C701.8 361.0 702.5 360.3 703.2 359.7C703.8 359.1 704.5 358.4 705.2 357.7C705.8 357.1 706.5 356.4 707.2 355.7C707.8 355.1 708.5 354.4 709.2 353.9C709.8 353.3 710.5 352.7 711.2 352.1C711.8 351.6 712.5 351.1 713.2 350.6C713.8 350.1 714.5 349.6 715.2 349.1C715.8 348.6 716.5 348.2 717.2 347.8C717.8 347.4 718.5 347.0 719.2 346.7C719.8 346.4 720.5 346.2 721.2 345.9C721.8 345.7 722.5 345.4 723.2 345.2C723.8 344.9 724.5 344.7 725.2 344.4C725.8 344.2 726.5 343.9 727.2 343.7C727.8 343.4 728.5 343.2 729.2 342.9C729.8 342.7 730.5 342.4 731.2 342.2C731.8 341.9 732.5 341.7 733.2 341.4C733.8 341.1 734.5 340.9 735.2 340.6C735.8 340.3 736.5 340.0 737.2 339.7C737.8 339.4 738.5 339.2 739.2 338.8C739.8 338.4 740.5 338.0 741.2 337.4C741.8 336.9 742.5 336.3 743.2 335.6C743.8 335.0 744.5 334.2 745.2 333.5C745.8 332.8 746.5 332.2 747.2 331.6C747.8 331.1 748.5 330.6 749.2 330.2C749.8 329.8 750.5 329.6 751.2 329.3C751.8 329.1 752.5 328.9 753.2 328.7C753.8 328.6 754.5 328.4 755.2 328.3C755.8 328.2 756.5 328.1 757.2 328.0C757.8 327.9 758.5 327.9 759.2 327.8C759.8 327.7 760.5 327.5 761.2 327.4C761.8 327.2 762.5 327.1 763.2 326.9C763.8 326.7 764.5 326.6 765.2 326.3C765.8 326.0 766.5 325.5 767.2 324.9C767.8 324.3 768.5 323.6 769.2 322.8C769.8 321.9 770.5 320.8 771.2 319.8C771.8 318.8 772.5 317.8 773.2 316.8C773.8 315.8 774.5 314.8 775.2 313.9C775.8 312.9 776.5 311.9 777.2 311.0C777.8 310.0 778.5 309.2 779.2 308.1C779.8 307.0 780.5 306.0 781.2 304.6C781.8 303.2 782.5 301.5 783.2 299.7C783.8 297.9 784.5 295.7 785.2 293.6C785.8 291.4 786.5 289.1 787.2 286.9C787.8 284.7 788.5 282.5 789.2 280.4C789.8 278.3 790.5 276.2 791.2 274.3C791.8 272.3 792.5 270.3 793.2 268.5C793.8 266.6 794.5 264.9 795.2 263.1C795.8 261.4 796.5 259.6 797.2 258.0C797.8 256.3 798.5 254.7 799.2 253.2C799.8 251.6 800.5 250.2 801.2 248.8C801.8 247.4 802.5 246.1 803.2 244.7C803.8 243.4 804.5 242.0 805.2 240.6C805.8 239.2 806.5 237.7 807.2 236.1C807.8 234.6 808.5 233.0 809.2 231.3C809.8 229.7 810.5 228.0 811.2 226.2C811.8 224.5 812.5 222.7 813.2 220.9C813.8 219.1 814.5 217.3 815.2 215.4C815.8 213.6 816.5 211.7 817.2 209.9C817.8 208.1 818.5 206.5 819.2 204.8C819.8 203.2 820.5 201.7 821.2 200.2C821.8 198.8 822.5 197.4 823.2 196.2C823.8 195.0 824.5 193.9 825.2 193.0C825.8 192.0 826.5 191.3 827.2 190.6C827.8 189.9 828.5 189.3 829.2 188.6C829.8 187.9 830.5 187.2 831.2 186.4C831.8 185.6 832.5 184.7 833.2 183.8C833.8 182.9 834.5 182.0 835.2 181.1C835.8 180.1 836.5 179.2 837.2 178.4C837.8 177.5 838.5 176.7 839.2 175.9C839.8 175.0 840.5 174.3 841.2 173.5C841.8 172.7 842.5 172.0 843.2 171.3C843.8 170.5 844.5 169.8 845.2 169.1C845.8 168.4 846.5 167.8 847.2 167.2C847.8 166.6 848.5 166.1 849.2 165.6C849.8 165.0 850.5 164.6 851.2 164.1C851.8 163.5 852.5 163.0 853.2 162.5C853.8 161.9 854.5 161.4 855.2 160.8C855.8 160.2 856.5 159.5 857.2 158.9C857.8 158.2 858.5 157.5 859.2 156.8C859.8 156.1 860.5 155.4 861.2 154.7C861.8 154.0 862.5 153.3 863.2 152.5C863.8 151.8 864.5 151.0 865.2 150.3C865.8 149.6 866.5 148.8 867.2 148.2C867.8 147.6 868.5 147.1 869.2 146.7C869.8 146.2 870.5 145.9 871.2 145.6C871.8 145.3 872.5 145.2 873.2 144.8C873.8 144.5 874.5 144.1 875.2 143.6C875.8 143.1 876.5 142.5 877.2 141.9C877.8 141.3 878.5 140.5 879.2 139.9C879.8 139.2 880.5 138.5 881.2 137.9C881.8 137.2 882.5 136.6 883.2 135.9C883.8 135.2 884.5 134.5 885.2 133.8C885.8 133.0 886.5 132.2 887.2 131.4C887.8 130.5 888.5 129.5 889.2 128.6C889.8 127.6 890.5 126.6 891.2 125.7C891.8 124.8 892.5 123.9 893.2 123.1C893.8 122.3 894.5 121.6 895.2 121.1C895.8 120.6 896.5 120.3 897.2 120.1C897.8 119.8 898.5 119.8 899.2 119.8C899.8 119.8 900.5 120.0 901.2 120.2C901.8 120.4 902.5 120.6 903.2 120.8C903.8 121.1 904.5 121.3 905.2 121.7C905.8 122.0 906.5 122.3 907.2 122.7C907.8 123.0 908.5 123.4 909.2 123.8C909.8 124.2 910.5 124.6 911.2 125.1C911.8 125.5 912.5 126.0 913.2 126.3C913.8 126.7 914.5 127.0 915.2 127.2C915.8 127.4 916.5 127.6 917.2 127.7C917.8 127.8 918.5 127.8 919.2 127.9C919.8 128.0 920.5 128.2 921.2 128.4C921.8 128.6 922.5 128.9 923.2 129.3C923.8 129.6 924.5 130.0 925.2 130.4C925.8 130.8 926.5 131.2 927.2 131.7C927.8 132.2 928.5 132.7 929.2 133.2C929.8 133.7 930.5 134.4 931.2 134.9C931.8 135.4 932.5 135.9 933.2 136.3C933.8 136.7 934.5 137.2 935.2 137.5C935.8 137.9 936.5 138.2 937.2 138.5C937.8 138.8 938.5 139.0 939.2 139.2C939.8 139.3 940.5 139.4 941.2 139.5C941.8 139.6 942.5 139.5 943.2 139.5C943.8 139.5 944.5 139.6 945.2 139.5C945.8 139.4 946.5 139.3 947.2 139.1C947.8 138.9 948.5 138.6 949.2 138.2C949.8 137.9 950.5 137.4 951.2 137.0C951.8 136.6 952.5 136.1 953.2 135.7C953.8 135.4 954.5 135.2 955.2 135.1C955.8 135.0 956.5 135.0 957.2 135.1C957.8 135.3 958.5 135.6 959.2 135.8C959.8 136.0 960.5 136.3 961.2 136.6C961.8 136.8 962.5 137.1 963.2 137.5C963.8 137.8 964.5 138.1 965.2 138.4C965.8 138.8 966.5 139.1 967.2 139.4C967.8 139.8 968.5 140.1 969.2 140.4C969.8 140.7 970.5 141.0 971.2 141.3C971.8 141.5 972.5 141.8 973.2 142.1C973.8 142.3 974.5 142.5 975.2 142.6C975.8 142.7 976.5 142.8 977.2 142.8C977.8 142.8 978.5 142.8 979.2 142.7C979.8 142.5 980.5 142.4 981.2 142.1C981.8 141.9 982.5 141.5 983.2 141.1C983.8 140.7 984.5 140.3 985.2 139.7C985.8 139.1 986.5 138.5 987.2 137.7C987.8 137.0 988.5 136.1 989.2 135.1C989.8 134.2 990.5 133.0 991.2 132.0C991.8 131.0 992.5 130.1 993.2 129.2C993.8 128.4 994.5 127.6 995.2 126.9C995.8 126.3 996.5 125.7 997.2 125.1C997.8 124.5 998.5 124.0 999.2 123.4C999.8 122.8 1000.5 122.2 1001.2 121.6C1001.8 120.9 1002.5 120.3 1003.2 119.7C1003.8 119.0 1004.5 118.3 1005.2 117.7C1005.8 117.0 1006.5 116.3 1007.2 115.7C1007.8 115.0 1008.5 114.4 1009.2 113.9C1009.8 113.3 1010.5 112.8 1011.2 112.3C1011.8 111.8 1012.5 111.3 1013.2 110.9C1013.8 110.4 1014.5 109.9 1015.2 109.5C1015.8 109.1 1016.5 108.8 1017.2 108.5C1017.8 108.2 1018.5 108.0 1019.2 107.9C1019.8 107.7 1020.5 107.7 1021.2 107.7C1021.8 107.6 1022.5 107.6 1023.2 107.5C1023.8 107.4 1024.5 107.3 1025.2 107.2C1025.8 107.0 1026.5 106.8 1027.2 106.6C1027.8 106.4 1028.5 106.0 1029.2 105.8C1029.8 105.5 1030.5 105.3 1031.2 105.2C1031.8 105.0 1032.5 105.0 1033.2 105.0C1033.8 104.9 1034.5 105.0 1035.2 105.1C1035.8 105.2 1036.5 105.3 1037.2 105.5C1037.8 105.6 1038.5 105.8 1039.2 106.0C1039.8 106.3 1040.5 106.6 1041.2 106.9C1041.8 107.1 1042.5 107.4 1043.2 107.7C1043.8 108.0 1044.5 108.3 1045.2 108.5C1045.8 108.8 1046.5 109.0 1047.2 109.3C1047.8 109.7 1048.5 110.0 1049.2 110.4C1049.8 110.9 1050.5 111.4 1051.2 111.9C1051.8 112.5 1052.5 113.2 1053.2 113.8C1053.8 114.5 1054.5 115.1 1055.2 115.7C1055.8 116.2 1056.5 116.7 1057.2 117.2C1057.8 117.7 1058.5 118.1 1059.2 118.5C1059.8 119.0 1060.5 119.4 1061.2 119.8C1061.8 120.2 1062.5 120.6 1063.2 121.0C1063.8 121.4 1064.5 121.9 1065.2 122.3C1065.8 122.7 1066.5 123.1 1067.2 123.4C1067.8 123.8 1068.5 124.1 1069.2 124.4C1069.8 124.7 1070.5 125.0 1071.2 125.2C1071.8 125.5 1072.5 125.7 1073.2 126.0C1073.8 126.2 1074.5 126.5 1075.2 126.7C1075.8 127.0 1076.5 127.2 1077.2 127.5C1077.8 127.7 1078.5 128.0 1079.2 128.2C1079.8 128.5 1080.5 128.7 1081.2 129.0C1081.8 129.2 1082.5 129.5 1083.2 129.7C1083.8 130.0 1084.5 130.2 1085.2 130.5C1085.8 130.7 1086.5 131.0 1087.2 131.2C1087.8 131.5 1088.5 131.7 1089.2 132.0C1089.8 132.2 1090.5 132.4 1091.2 132.6C1091.8 132.8 1092.5 132.9 1093.2 133.0C1093.8 133.1 1094.5 133.2 1095.2 133.2C1095.8 133.3 1096.5 133.3 1097.2 133.3C1097.8 133.4 1098.5 133.4 1099.2 133.5C1099.8 133.6 1100.5 133.7 1101.2 133.9C1101.8 134.0 1102.5 134.1 1103.2 134.4C1103.8 134.8 1104.5 135.2 1105.2 135.8C1105.8 136.4 1106.5 137.1 1107.2 138.0C1107.8 139.0 1108.5 140.2 1109.2 141.5C1109.8 142.7 1110.5 144.0 1111.2 145.4C1111.8 146.7 1112.5 148.3 1113.2 149.6C1113.8 151.0 1114.5 152.4 1115.2 153.7C1115.8 155.0 1116.5 156.3 1117.2 157.5C1117.8 158.7 1118.5 159.9 1119.2 160.9C1119.8 162.0 1120.5 163.1 1121.2 163.9C1121.8 164.8 1122.5 165.5 1123.2 166.1C1123.8 166.7 1124.5 167.1 1125.2 167.4C1125.8 167.7 1126.5 167.8 1127.2 168.0C1127.8 168.2 1128.5 168.4 1129.2 168.8C1129.8 169.1 1130.5 169.6 1131.2 170.1C1131.8 170.7 1132.5 171.4 1133.2 171.9C1133.8 172.4 1134.5 172.9 1135.2 173.3C1135.8 173.7 1136.5 173.9 1137.2 174.2C1137.8 174.5 1138.5 174.7 1139.2 175.1C1139.8 175.4 1140.5 175.8 1141.2 176.3C1141.8 176.8 1142.5 177.3 1143.2 178.1C1143.8 178.8 1144.5 179.8 1145.2 180.9C1145.8 182.0 1146.5 183.3 1147.2 184.6C1147.8 186.0 1148.5 187.7 1149.2 189.0C1149.8 190.3 1150.5 191.5 1151.2 192.5C1151.8 193.5 1152.5 194.3 1153.2 195.1C1153.8 195.9 1154.5 196.4 1155.2 197.1C1155.8 197.8 1156.5 198.4 1157.2 199.1C1157.8 199.8 1158.5 200.4 1159.2 201.1C1159.8 201.8 1160.5 202.4 1161.2 203.0C1161.8 203.6 1162.5 204.1 1163.2 204.6C1163.8 205.1 1164.5 205.6 1165.2 206.0C1165.8 206.4 1166.5 206.7 1167.2 207.1C1167.8 207.5 1168.5 207.9 1169.2 208.3C1169.8 208.7 1170.5 209.1 1171.2 209.5C1171.8 210.0 1172.5 210.4 1173.2 210.8C1173.8 211.3 1174.5 211.7 1175.2 212.1C1175.8 212.4 1176.5 212.7 1177.2 212.9C1177.8 213.1 1178.5 213.2 1179.2 213.3C1179.8 213.5 1180.5 213.5 1181.2 213.5C1181.8 213.6 1182.5 213.7 1183.2 213.7C1183.8 213.8 1184.5 213.8 1185.2 213.8C1185.8 213.9 1186.5 213.9 1187.2 213.9C1187.8 213.9 1188.5 213.9 1189.2 213.9C1189.8 213.9 1190.8 213.9 1191.2 213.9" stroke="#2962ff" stroke-width="3" fill="none" stroke-linejoin="round" stroke-linecap="round"/>
<path d="M14.5 331.1V362.4M17.5 329.0V344.8M20.5 316.3V337.8M23.5 325.5V329.0M26.5 316.3V328.1M29.5 297.0V334.8M36.5 291.2V306.5M48.5 322.8V351.8M57.5 328.1V376.5M66.5 342.2V361.5M70.5 331.1V356.2M73.5 307.9V338.6M76.5 305.2V319.3M82.5 305.2V322.8M91.5 307.0V318.4M100.5 336.9V351.5M103.5 320.2V343.0M110.5 318.4V331.6M113.5 314.0V324.0M116.5 297.0V321.1M122.5 308.2V331.6M134.5 343.0V367.7M140.5 353.2V371.2M147.5 355.3V375.6M150.5 346.2V383.5M153.5 346.6V360.6M156.5 342.2V353.6M159.5 334.2V351.5M168.5 350.1V362.4M177.5 354.5V362.4M180.5 353.9V369.4M190.5 384.4V401.4M193.5 362.4V389.6M196.5 351.8V365.0M199.5 351.0V360.6M211.5 359.7V377.9M217.5 372.1V378.6M221.5 369.1V377.9M224.5 359.2V376.8M230.5 339.2V372.6M236.5 332.1V348.3M245.5 305.8V341.6M258.5 321.1V337.8M261.5 318.1V325.8M267.5 311.0V326.9M276.5 319.3V334.6M282.5 329.0V332.8M288.5 314.0V331.6M291.5 309.6V324.6M295.5 304.0V313.1M307.5 317.0V320.5M316.5 316.3V336.0M325.5 339.2V342.7M328.5 335.1V341.6M347.5 352.2V356.2M356.5 366.3V381.4M362.5 365.9V377.9M368.5 373.8V380.3M372.5 362.0V376.5M375.5 356.2V365.0M390.5 391.9V408.1M396.5 394.9V420.1M399.5 393.2V406.4M409.5 392.3V404.9M412.5 385.2V397.6M415.5 372.1V388.8M418.5 349.2V378.2M421.5 346.2V365.9M430.5 332.8V359.7M433.5 331.1V340.4M436.5 325.8V343.4M449.5 341.3V358.9M452.5 326.9V344.4M458.5 326.5V335.2M470.5 344.2V366.7M486.5 401.5V422.2M492.5 364.3V417.0M498.5 371.4V379.4M504.5 377.4V396.9M507.5 370.8V391.5M516.5 384.0V400.5M520.5 384.4V390.1M526.5 384.4V395.5M532.5 370.4V389.4M538.5 349.2V380.4M541.5 351.9V357.3M544.5 349.2V357.3M556.5 374.4V390.9M569.5 386.4V400.5M575.5 392.5V410.6M584.5 420.2V423.0M587.5 413.0V423.6M590.5 395.5V417.6M593.5 395.5V405.5M600.5 394.5V400.1M603.5 378.0V396.5M615.5 373.4V398.1M618.5 369.3V386.4M621.5 356.3V371.4M624.5 353.9V366.3M627.5 358.3V363.9M630.5 355.9V365.9M637.5 351.3V363.9M643.5 343.2V363.9M646.5 339.2V349.8M649.5 340.2V345.2M664.5 372.4V382.8M667.5 365.3V379.4M674.5 362.3V369.3M689.5 359.3V380.8M692.5 358.7V366.3M698.5 339.2V364.7M701.5 329.1V349.2M704.5 326.1V336.6M711.5 322.1V334.6M714.5 323.7V328.1M717.5 320.1V327.1M723.5 330.2V337.2M729.5 323.1V339.8M735.5 334.2V339.2M738.5 327.7V336.6M741.5 314.1V331.2M745.5 292.6V317.1M766.5 311.7V331.8M769.5 272.9V321.7M772.5 269.4V286.1M775.5 268.0V279.5M778.5 270.5V277.5M782.5 238.7V272.5M785.5 186.0V248.3M791.5 162.2V204.8M797.5 171.1V201.8M806.5 166.2V186.7M809.5 157.0V181.1M812.5 151.0V172.7M815.5 124.4V156.2M818.5 120.0V135.5M825.5 126.0V144.9M834.5 134.9V171.1M840.5 126.0V147.5M846.5 130.9V144.5M852.5 140.5V159.0M855.5 124.0V152.6M862.5 103.9V143.5M865.5 114.0V124.8M868.5 107.9V126.0M877.5 104.3V145.5M883.5 104.3V121.4M886.5 99.3V112.4M889.5 81.8V109.3M892.5 65.1V94.7M896.5 62.1V81.8M905.5 129.4V167.6M917.5 120.4V159.6M920.5 120.0V133.5M929.5 145.5V156.2M939.5 142.9V169.6M942.5 149.5V163.6M945.5 131.5V154.6M948.5 124.0V142.9M951.5 125.4V132.5M954.5 125.4V133.5M957.5 100.7V129.4M970.5 145.5V168.6M976.5 146.9V158.6M982.5 134.5V154.2M985.5 112.0V142.9M991.5 78.2V118.4M994.5 84.2V101.3M1000.5 52.5V119.4M1003.5 69.7V117.4M1010.5 72.6V108.3M1013.5 70.2V98.7M1028.5 85.2V109.3M1031.5 74.2V94.3M1043.5 100.3V174.7M1062.5 135.5V151.6M1065.5 128.8V147.5M1071.5 130.1V155.6M1077.5 126.1V142.1M1080.5 129.5V135.1M1093.5 137.5V150.2M1096.5 124.0V140.1M1102.5 137.1V145.2M1117.5 201.8V231.2M1124.5 205.9V223.5M1127.5 150.2V210.5M1133.5 190.4V238.6M1136.5 177.3V207.9M1154.5 224.5V271.8M1158.5 219.5V244.6M1164.5 214.5V243.6M1167.5 219.5V227.6M1173.5 218.5V233.6M1179.5 203.0V232.6M1191.5 213.9V225.2" stroke="#26a69a" stroke-width="1" fill="none"/>
<path d="M11.5 321.9V387.9M33.5 295.9V324.6M39.5 291.2V324.6M42.5 299.9V344.8M45.5 314.9V349.2M51.5 321.9V337.8M54.5 328.1V370.8M60.5 327.2V351.5M63.5 337.8V366.8M79.5 304.0V325.8M85.5 309.3V321.1M88.5 313.1V318.4M94.5 307.0V325.8M97.5 318.1V351.5M106.5 324.6V342.2M119.5 304.7V326.3M125.5 307.0V321.9M128.5 307.0V347.4M131.5 329.8V376.5M137.5 334.2V366.8M143.5 352.7V383.5M162.5 334.2V343.9M165.5 335.1V357.5M171.5 350.1V359.7M174.5 356.2V365.9M184.5 350.4V386.7M187.5 376.5V404.6M202.5 345.1V363.3M205.5 352.7V366.8M208.5 365.0V375.6M214.5 359.2V380.8M227.5 361.5V373.3M233.5 337.4V351.0M239.5 332.8V337.8M242.5 331.1V342.7M248.5 302.2V321.1M251.5 311.4V322.8M254.5 315.2V339.5M264.5 317.5V328.1M270.5 317.5V333.9M273.5 322.8V335.1M279.5 321.9V337.8M285.5 326.3V333.9M298.5 304.3V314.9M301.5 302.2V325.8M304.5 318.4V321.2M310.5 314.0V321.1M313.5 318.1V341.3M319.5 325.5V338.6M322.5 333.4V348.0M331.5 332.8V347.4M335.5 337.8V355.0M338.5 338.6V351.0M341.5 337.8V351.8M344.5 348.3V358.9M350.5 351.8V362.0M353.5 358.9V391.9M359.5 365.5V377.3M365.5 367.3V380.8M378.5 359.7V369.8M381.5 367.7V385.6M384.5 378.6V403.2M387.5 398.4V425.7M393.5 391.9V410.2M402.5 385.2V401.1M405.5 384.4V401.1M424.5 341.3V356.2M427.5 348.3V359.7M439.5 325.8V337.8M442.5 329.8V343.9M446.5 335.1V347.4M455.5 320.1V337.8M461.5 315.1V338.6M464.5 335.2V346.6M467.5 336.2V351.9M473.5 345.2V374.0M476.5 367.3V382.8M479.5 374.0V400.5M483.5 393.5V454.8M489.5 397.5V417.6M495.5 367.3V384.4M501.5 369.3V392.9M510.5 370.8V391.5M513.5 383.4V407.5M523.5 380.4V392.9M529.5 371.4V389.4M535.5 372.8V382.4M547.5 351.9V364.3M550.5 361.3V394.5M553.5 380.4V395.5M560.5 382.0V396.9M563.5 385.4V390.1M566.5 387.4V400.9M572.5 383.4V399.5M578.5 393.5V409.5M581.5 402.5V430.7M597.5 394.9V410.6M606.5 378.0V383.4M609.5 379.4V389.4M612.5 385.4V398.1M634.5 349.8V364.7M640.5 350.3V361.9M652.5 341.8V345.8M655.5 344.6V361.9M658.5 354.3V378.4M661.5 366.3V381.4M671.5 365.3V370.4M677.5 352.3V368.3M680.5 361.3V369.3M683.5 365.3V380.0M686.5 373.4V388.4M695.5 359.3V367.3M708.5 329.7V337.8M720.5 319.1V335.8M726.5 331.8V346.6M732.5 324.1V344.6M748.5 295.6V305.6M751.5 298.6V317.7M754.5 304.6V321.7M757.5 316.7V321.1M760.5 318.7V331.8M763.5 318.7V336.8M788.5 184.0V216.2M794.5 171.1V205.2M800.5 171.1V183.1M803.5 174.3V191.8M822.5 123.4V135.5M828.5 124.0V165.6M831.5 149.5V177.7M837.5 140.1V151.6M843.5 133.5V142.5M849.5 128.8V154.2M859.5 89.8V179.7M871.5 109.3V155.6M874.5 128.0V154.6M880.5 99.9V118.4M899.5 73.8V117.4M902.5 98.3V144.5M908.5 120.4V140.1M911.5 134.1V153.6M914.5 140.1V166.2M923.5 116.8V146.5M926.5 142.5V159.6M933.5 147.5V160.6M936.5 149.5V172.7M960.5 99.3V141.5M963.5 134.5V166.6M966.5 148.1V174.3M973.5 150.2V157.6M979.5 144.1V187.7M988.5 112.8V130.5M997.5 74.2V118.4M1007.5 74.6V94.7M1016.5 82.2V89.8M1019.5 81.2V101.3M1022.5 95.3V131.5M1025.5 92.3V114.8M1034.5 77.2V102.3M1037.5 98.7V114.8M1040.5 107.3V141.5M1047.5 104.7V141.5M1050.5 122.0V140.9M1053.5 123.4V145.5M1056.5 116.4V145.5M1059.5 137.5V144.5M1068.5 128.4V150.2M1074.5 130.1V148.2M1084.5 132.1V144.1M1087.5 142.7V149.2M1090.5 138.1V160.8M1099.5 120.0V150.8M1105.5 139.1V149.2M1108.5 140.7V174.3M1111.5 166.3V208.5M1114.5 187.4V234.0M1121.5 215.5V260.7M1130.5 154.2V215.5M1139.5 165.3V197.0M1142.5 175.3V217.5M1145.5 203.4V215.5M1148.5 206.5V248.7M1151.5 222.5V265.8M1161.5 221.5V249.7M1170.5 215.5V236.0M1176.5 219.5V242.0M1182.5 200.4V225.2M1185.5 216.5V227.6M1188.5 217.5V225.2" stroke="#ef5350" stroke-width="1" fill="none"/>
<path d="M13 342.2h3V357.5h-3zM16 336.9h3V342.2h-3zM19 328.1h3V336.9h-3zM22 326.9h3V328.1h-3zM25 322.3h3V326.9h-3zM28 302.2h3V322.3h-3zM35 295.2h3V306.5h-3zM47 326.3h3V346.9h-3zM56 329.8h3V369.8h-3zM65 355.0h3V357.5h-3zM69 334.2h3V355.0h-3zM72 316.3h3V334.2h-3zM75 316.0h3V317.0h-3zM81 310.0h3V319.3h-3zM90 307.0h3V318.1h-3zM99 342.2h3V346.6h-3zM102 326.3h3V342.2h-3zM109 323.3h3V331.1h-3zM112 320.2h3V323.3h-3zM115 305.2h3V320.2h-3zM121 311.4h3V321.6h-3zM133 343.9h3V356.8h-3zM139 357.1h3V359.7h-3zM146 359.2h3V373.8h-3zM149 356.2h3V359.2h-3zM152 349.2h3V356.2h-3zM155 344.4h3V349.2h-3zM158 336.9h3V344.4h-3zM167 351.8h3V353.6h-3zM176 358.9h3V359.9h-3zM179 356.2h3V358.9h-3zM189 388.4h3V393.7h-3zM192 363.3h3V388.4h-3zM195 356.2h3V363.3h-3zM198 355.3h3V356.3h-3zM210 361.0h3V375.0h-3zM216 375.6h3V376.6h-3zM220 372.1h3V375.6h-3zM223 362.0h3V372.1h-3zM229 341.3h3V372.1h-3zM235 335.1h3V347.4h-3zM244 306.1h3V340.9h-3zM257 325.1h3V329.3h-3zM260 320.2h3V325.1h-3zM266 318.8h3V325.8h-3zM275 326.3h3V332.1h-3zM281 330.4h3V332.5h-3zM287 323.3h3V331.1h-3zM290 312.3h3V323.3h-3zM294 308.2h3V312.3h-3zM306 318.4h3V320.5h-3zM315 326.3h3V333.9h-3zM324 340.4h3V342.2h-3zM327 337.8h3V340.4h-3zM346 353.2h3V354.5h-3zM355 370.3h3V380.8h-3zM361 370.3h3V376.8h-3zM367 375.0h3V380.0h-3zM371 362.7h3V375.0h-3zM374 362.4h3V363.4h-3zM389 392.6h3V404.9h-3zM395 404.6h3V409.9h-3zM398 394.9h3V404.6h-3zM408 396.2h3V400.2h-3zM411 386.1h3V396.2h-3zM414 376.5h3V386.1h-3zM417 350.1h3V376.5h-3zM420 347.4h3V350.1h-3zM429 338.1h3V356.2h-3zM432 334.2h3V338.1h-3zM435 327.2h3V334.2h-3zM448 343.0h3V346.6h-3zM451 329.0h3V343.0h-3zM457 327.1h3V330.2h-3zM469 346.6h3V351.3h-3zM485 408.5h3V421.6h-3zM491 369.3h3V414.6h-3zM497 372.4h3V373.4h-3zM503 386.4h3V390.9h-3zM506 378.0h3V386.4h-3zM515 389.4h3V398.5h-3zM519 384.8h3V389.4h-3zM525 385.4h3V392.5h-3zM531 374.0h3V388.8h-3zM537 355.3h3V380.0h-3zM540 353.9h3V355.3h-3zM543 353.3h3V354.3h-3zM555 386.4h3V388.4h-3zM568 387.4h3V400.5h-3zM574 396.1h3V398.5h-3zM583 420.6h3V422.2h-3zM586 416.2h3V420.6h-3zM589 401.5h3V416.2h-3zM592 396.5h3V401.5h-3zM599 396.1h3V399.5h-3zM602 378.4h3V396.1h-3zM614 380.4h3V394.5h-3zM617 370.4h3V380.4h-3zM620 362.3h3V370.4h-3zM623 360.7h3V362.3h-3zM626 359.3h3V360.7h-3zM629 357.7h3V359.3h-3zM636 353.9h3V360.3h-3zM642 348.2h3V361.3h-3zM645 343.2h3V348.2h-3zM648 342.6h3V343.6h-3zM663 378.8h3V380.0h-3zM666 366.3h3V378.8h-3zM673 363.3h3V367.9h-3zM688 365.3h3V380.4h-3zM691 360.3h3V365.3h-3zM697 341.2h3V363.9h-3zM700 335.2h3V341.2h-3zM703 331.8h3V335.2h-3zM710 326.1h3V334.6h-3zM713 325.1h3V326.1h-3zM716 321.7h3V325.1h-3zM722 333.2h3V334.2h-3zM728 327.1h3V339.2h-3zM734 335.8h3V338.2h-3zM737 329.7h3V335.8h-3zM740 316.1h3V329.7h-3zM744 297.6h3V316.1h-3zM765 320.7h3V330.8h-3zM768 278.9h3V320.7h-3zM771 277.5h3V278.9h-3zM774 272.9h3V277.5h-3zM777 271.5h3V272.9h-3zM781 247.3h3V271.5h-3zM784 192.1h3V247.3h-3zM790 180.7h3V197.1h-3zM796 176.3h3V200.0h-3zM805 180.3h3V184.7h-3zM808 168.2h3V180.3h-3zM811 155.0h3V168.2h-3zM814 128.0h3V155.0h-3zM817 124.0h3V128.0h-3zM824 131.9h3V132.9h-3zM833 144.1h3V170.7h-3zM839 134.1h3V146.5h-3zM845 136.1h3V141.5h-3zM851 144.1h3V145.1h-3zM854 126.0h3V144.1h-3zM861 118.8h3V138.1h-3zM864 118.0h3V119.0h-3zM867 109.9h3V118.0h-3zM876 109.3h3V139.5h-3zM882 108.3h3V117.4h-3zM885 107.9h3V108.9h-3zM888 87.2h3V107.9h-3zM891 76.6h3V87.2h-3zM895 75.8h3V76.8h-3zM904 131.5h3V134.5h-3zM916 126.4h3V151.6h-3zM919 120.8h3V126.4h-3zM928 147.5h3V155.6h-3zM938 159.0h3V165.6h-3zM941 153.0h3V159.0h-3zM944 137.5h3V153.0h-3zM947 129.4h3V137.5h-3zM950 128.4h3V129.4h-3zM953 128.0h3V129.0h-3zM956 101.9h3V128.0h-3zM969 151.6h3V166.6h-3zM975 152.6h3V153.6h-3zM981 140.5h3V153.6h-3zM984 114.4h3V140.5h-3zM990 90.3h3V117.4h-3zM993 87.2h3V90.3h-3zM999 102.3h3V108.7h-3zM1002 76.2h3V102.3h-3zM1009 91.3h3V92.7h-3zM1012 85.2h3V91.3h-3zM1027 92.3h3V108.3h-3zM1030 87.2h3V92.3h-3zM1042 107.9h3V132.5h-3zM1061 139.5h3V140.9h-3zM1064 134.5h3V139.5h-3zM1070 131.5h3V145.5h-3zM1076 133.1h3V139.5h-3zM1079 132.7h3V133.7h-3zM1092 138.7h3V146.2h-3zM1095 127.5h3V138.7h-3zM1101 140.1h3V143.1h-3zM1116 218.5h3V221.5h-3zM1123 209.1h3V221.9h-3zM1126 154.8h3V209.1h-3zM1132 201.4h3V209.1h-3zM1135 179.3h3V201.4h-3zM1153 230.0h3V259.7h-3zM1157 224.5h3V230.0h-3zM1163 223.5h3V242.6h-3zM1166 222.5h3V223.5h-3zM1172 223.5h3V232.6h-3zM1178 204.4h3V232.0h-3zM1190 215.1h3V224.5h-3z" fill="#26a69a"/>
<path d="M10 327.2h3V357.5h-3zM32 302.2h3V306.5h-3zM38 295.2h3V306.5h-3zM41 306.5h3V319.3h-3zM44 319.3h3V346.9h-3zM50 326.3h3V331.1h-3zM53 331.1h3V369.8h-3zM59 329.8h3V345.7h-3zM62 345.7h3V357.5h-3zM78 316.0h3V319.3h-3zM84 310.0h3V316.3h-3zM87 316.3h3V318.1h-3zM93 307.0h3V318.4h-3zM96 318.4h3V346.6h-3zM105 326.3h3V331.1h-3zM118 305.2h3V321.6h-3zM124 311.4h3V316.3h-3zM127 316.3h3V336.0h-3zM130 336.0h3V356.8h-3zM136 343.9h3V359.7h-3zM142 357.1h3V373.8h-3zM161 336.9h3V339.5h-3zM164 339.5h3V353.6h-3zM170 351.8h3V358.0h-3zM173 358.0h3V359.7h-3zM183 356.2h3V377.3h-3zM186 377.3h3V393.7h-3zM201 355.3h3V361.5h-3zM204 361.5h3V366.3h-3zM207 366.3h3V375.0h-3zM213 361.0h3V376.5h-3zM226 362.0h3V372.1h-3zM232 341.3h3V347.4h-3zM238 335.1h3V336.1h-3zM241 336.0h3V340.9h-3zM247 306.1h3V315.8h-3zM250 315.8h3V321.6h-3zM253 321.6h3V329.3h-3zM263 320.2h3V325.8h-3zM269 318.8h3V326.3h-3zM272 326.3h3V332.1h-3zM278 326.3h3V332.5h-3zM284 330.4h3V331.4h-3zM297 308.2h3V310.5h-3zM300 310.5h3V320.2h-3zM303 320.2h3V321.2h-3zM309 318.4h3V319.4h-3zM312 319.3h3V333.9h-3zM318 326.3h3V337.4h-3zM321 337.4h3V342.2h-3zM330 337.8h3V341.3h-3zM334 341.3h3V349.2h-3zM337 349.2h3V350.2h-3zM340 349.7h3V350.7h-3zM343 350.4h3V354.5h-3zM349 353.2h3V361.5h-3zM352 361.5h3V380.8h-3zM358 370.3h3V376.8h-3zM364 370.3h3V380.0h-3zM377 362.4h3V368.5h-3zM380 368.5h3V380.8h-3zM383 380.8h3V402.5h-3zM386 402.5h3V404.9h-3zM392 392.6h3V409.9h-3zM401 394.9h3V397.6h-3zM404 397.6h3V400.2h-3zM423 347.4h3V355.3h-3zM426 355.3h3V356.3h-3zM438 327.2h3V332.8h-3zM441 332.8h3V343.0h-3zM445 343.0h3V346.6h-3zM454 329.0h3V330.2h-3zM460 327.1h3V337.2h-3zM463 337.2h3V341.2h-3zM466 341.2h3V351.3h-3zM472 346.6h3V372.8h-3zM475 372.8h3V377.4h-3zM478 377.4h3V394.5h-3zM482 394.5h3V421.6h-3zM488 408.5h3V414.6h-3zM494 369.3h3V373.4h-3zM500 372.4h3V390.9h-3zM509 378.0h3V390.5h-3zM512 390.5h3V398.5h-3zM522 384.8h3V392.5h-3zM528 385.4h3V388.8h-3zM534 374.0h3V380.0h-3zM546 353.3h3V363.3h-3zM549 363.3h3V386.8h-3zM552 386.8h3V388.4h-3zM559 386.4h3V388.4h-3zM562 388.4h3V389.4h-3zM565 388.8h3V400.5h-3zM571 387.4h3V398.5h-3zM577 396.1h3V407.5h-3zM580 407.5h3V422.2h-3zM596 396.5h3V399.5h-3zM605 378.4h3V382.4h-3zM608 382.4h3V388.8h-3zM611 388.8h3V394.5h-3zM633 357.7h3V360.3h-3zM639 353.9h3V361.3h-3zM651 342.6h3V345.2h-3zM654 345.2h3V360.3h-3zM657 360.3h3V377.4h-3zM660 377.4h3V380.0h-3zM670 366.3h3V367.9h-3zM676 363.3h3V367.3h-3zM679 367.3h3V368.3h-3zM682 367.9h3V377.4h-3zM685 377.4h3V380.4h-3zM694 360.3h3V363.9h-3zM707 331.8h3V334.6h-3zM719 321.7h3V334.2h-3zM725 333.2h3V339.2h-3zM731 327.1h3V338.2h-3zM747 297.6h3V300.2h-3zM750 300.2h3V316.7h-3zM753 316.7h3V319.7h-3zM756 319.7h3V320.7h-3zM759 320.1h3V325.7h-3zM762 325.7h3V330.8h-3zM787 192.1h3V197.1h-3zM793 180.7h3V200.0h-3zM799 176.3h3V179.7h-3zM802 179.7h3V184.7h-3zM821 124.0h3V132.9h-3zM827 131.9h3V163.6h-3zM830 163.6h3V170.7h-3zM836 144.1h3V146.5h-3zM842 134.1h3V141.5h-3zM848 136.1h3V144.5h-3zM858 126.0h3V138.1h-3zM870 109.9h3V135.5h-3zM873 135.5h3V139.5h-3zM879 109.3h3V117.4h-3zM898 75.8h3V116.4h-3zM901 116.4h3V134.5h-3zM907 131.5h3V134.9h-3zM910 134.9h3V149.5h-3zM913 149.5h3V151.6h-3zM922 120.8h3V145.5h-3zM925 145.5h3V155.6h-3zM932 147.5h3V159.6h-3zM935 159.6h3V165.6h-3zM959 101.9h3V136.9h-3zM962 136.9h3V150.2h-3zM965 150.2h3V166.6h-3zM972 151.6h3V153.0h-3zM978 152.6h3V153.6h-3zM987 114.4h3V117.4h-3zM996 87.2h3V108.7h-3zM1006 76.2h3V92.7h-3zM1015 85.2h3V86.2h-3zM1018 86.2h3V100.3h-3zM1021 100.3h3V104.3h-3zM1024 104.3h3V108.3h-3zM1033 87.2h3V101.3h-3zM1036 101.3h3V113.4h-3zM1039 113.4h3V132.5h-3zM1046 107.9h3V132.5h-3zM1049 132.5h3V139.5h-3zM1052 139.5h3V140.5h-3zM1055 140.1h3V141.1h-3zM1058 140.5h3V141.5h-3zM1067 134.5h3V145.5h-3zM1073 131.5h3V139.5h-3zM1083 132.7h3V143.5h-3zM1086 143.5h3V145.6h-3zM1089 145.6h3V146.6h-3zM1098 127.5h3V143.1h-3zM1104 140.1h3V142.1h-3zM1107 142.1h3V173.7h-3zM1110 173.7h3V192.4h-3zM1113 192.4h3V221.5h-3zM1120 218.5h3V221.9h-3zM1129 154.8h3V209.1h-3zM1138 179.3h3V184.3h-3zM1141 184.3h3V205.1h-3zM1144 205.1h3V207.9h-3zM1147 207.9h3V244.6h-3zM1150 244.6h3V259.7h-3zM1160 224.5h3V242.6h-3zM1169 222.5h3V232.6h-3zM1175 223.5h3V232.0h-3zM1181 204.4h3V219.1h-3zM1184 219.1h3V220.1h-3zM1187 219.9h3V224.5h-3z" fill="#ef5350"/>
<path d="M10 215.5H1275.5" stroke="#26a69a" stroke-width="1" stroke-dasharray="1 2" fill="none"/>
</g>
<g transform="translate(0,0.6)"><circle cx="1191.6" cy="543.4" r="11.5" fill="#fff"/><path d="M1194.1 533.6A9.6 9.6 0 1 0 1200.9 541" fill="none" stroke="#9c27b0" stroke-width="1.6" stroke-linecap="round"/><path d="M1194 538.2L1187.2 543.9H1190.9L1188.4 549L1195.6 543.1H1191.9z" fill="#9c27b0"/><circle cx="1198.5" cy="535.9" r="2.5" fill="#f23645"/></g>
<path d="M10 556.5H1353" stroke="#dcdfe8" stroke-width="1" fill="none"/>
<path d="M10 733.5H1353" stroke="#dcdde2" stroke-width="1" fill="none"/>
<path d="M1275.5 28V760" stroke="#dddfe6" stroke-width="1" fill="none"/>
<g clip-path="url(#cr)">
<path d="M11.4 604.2L13.5 598.5L16.8 594.7L20.1 590.8L24.5 589.7L27.3 587.5L29.5 580.2L32.6 584.6L35.5 580.9L37.7 588.6L40.4 604.2z" fill="url(#gg)"/>
<path d="M715.8 604.2L717.6 601.8L717.9 604.2z" fill="url(#gg)"/>
<path d="M743.9 604.2L744.8 598.5L747.9 602.9L748.1 604.2z" fill="url(#gg)"/>
<path d="M769.0 604.2L769.0 603.5L772.1 601.8L775.2 599.6L778.3 598.5L781.3 588.6L784.9 565.5L787.9 571.0L791.0 567.7L794.1 591.9L797.2 583.7L800.2 587.5L803.3 592.5L806.4 589.7L809.5 585.3L812.6 580.9L815.2 572.8L818.7 572.1L821.8 581.5L824.9 582.0L826.5 604.2z" fill="url(#gg)"/>
<path d="M891.8 604.2L892.1 603.5L896.1 603.5L896.1 604.2z" fill="url(#gg)"/>
<path d="M351.6 708.9L353.0 718.7L354.5 708.9z" fill="url(#rg)"/>
<path d="M383.9 708.9L384.2 710.6L387.3 712.8L387.9 708.9z" fill="url(#rg)"/>
<path d="M481.4 708.9L482.8 716.5L484.1 708.9z" fill="url(#rg)"/>
<path d="M1110.4 708.9L1113.7 723.9L1116.4 719.3L1119.1 720.3L1121.9 720.8L1124.2 708.9z" fill="url(#rg)"/>
<path d="M11.1 605.1L13.5 598.5L16.8 594.7L20.1 590.8L24.5 589.7L27.3 587.5L29.5 580.2L32.6 584.6L35.5 580.9L37.7 588.6L41.0 607.3L44.7 643.1L47.6 629.2L50.4 633.6L53.7 663.8L56.8 639.6L60.3 649.0L64.1 656.3L66.9 655.6L70.0 644.6L73.1 632.1L76.1 632.5L78.8 635.8L81.6 629.9L84.9 635.8L87.6 636.9L90.7 629.2L93.3 636.9L96.6 662.2L100.3 660.0L103.6 646.8L106.5 650.1L109.6 644.6L113.1 641.3L115.7 631.4L119.0 646.2L121.9 639.6L124.9 643.5L127.8 658.9L131.1 675.4L134.0 666.6L137.3 675.4L140.3 674.3L143.9 684.9L146.9 671.0L149.8 668.8L153.1 662.2L155.7 661.6L158.8 651.2L161.9 653.4L165.0 665.5L168.0 665.5L171.1 669.5L174.4 671.0L177.5 673.2L180.8 667.7L183.9 686.4L186.9 698.5L190.0 691.9L193.1 663.3L196.2 656.3L199.3 655.6L202.3 661.6L205.4 668.2L208.0 674.3L211.1 660.0L214.2 673.2L217.9 673.2L221.2 665.5L224.3 657.2L226.9 663.3L230.0 636.9L232.7 642.4L235.7 633.6L238.8 634.7L242.2 638.0L244.8 613.2L247.9 623.8L251.0 629.9L254.5 638.7L257.6 635.8L260.9 632.1L264.2 638.0L266.8 632.5L269.9 640.9L273.0 646.8L275.8 642.4L278.9 649.0L282.2 647.5L285.1 647.5L288.4 640.9L291.7 627.0L295.0 622.7L297.8 625.9L300.9 641.3L304.2 641.8L307.3 639.1L310.3 641.8L313.2 664.4L316.1 655.0L319.1 668.2L322.2 674.3L325.3 671.7L328.8 667.7L331.9 669.5L335.0 681.3L338.0 683.5L341.1 685.3L344.2 691.5L347.3 690.1L350.4 699.6L353.0 718.7L356.1 698.1L359.1 702.9L362.2 692.3L365.7 700.7L368.8 693.0L371.9 672.1L375.0 671.0L378.1 678.7L381.1 693.7L384.2 710.6L387.3 712.8L390.4 694.1L393.4 706.2L396.5 695.2L399.2 684.2L402.7 685.7L406.0 687.9L408.8 682.0L411.9 669.9L415.0 654.5L417.6 625.9L420.7 624.8L423.8 633.6L426.9 634.3L429.9 618.3L433.0 615.0L436.1 610.1L439.6 616.7L442.7 631.4L445.8 637.4L448.8 633.6L451.9 621.1L455.0 620.5L458.1 618.9L461.1 634.3L464.2 641.8L467.3 655.6L470.0 650.1L472.6 679.8L476.2 685.3L479.7 698.5L482.8 716.5L485.8 698.5L488.9 702.4L492.0 657.8L495.1 661.6L498.1 661.6L501.2 672.6L504.3 668.2L506.9 661.1L510.0 669.9L513.1 677.6L516.6 669.5L520.1 664.4L523.2 669.9L526.3 663.3L529.4 665.1L532.4 650.6L535.1 655.6L538.1 633.6L541.2 633.0L544.3 633.0L547.4 644.6L550.0 667.3L553.5 669.5L557.1 667.3L560.1 668.8L563.2 669.9L566.3 680.9L568.9 665.5L572.0 675.4L575.1 672.6L578.2 684.2L581.2 695.2L584.3 693.0L587.4 685.7L590.9 667.3L594.0 662.2L597.1 663.3L600.1 656.7L603.2 639.6L606.3 644.6L609.4 652.3L612.4 659.4L615.1 644.6L618.2 633.6L621.2 624.8L624.3 623.3L627.4 622.0L630.5 621.1L633.6 624.2L636.6 617.6L639.7 630.8L642.8 616.1L645.9 612.3L648.9 612.3L652.0 616.1L655.1 642.4L658.2 666.6L661.3 667.7L664.3 666.6L667.8 654.1L670.9 653.4L674.0 646.2L677.1 651.9L680.2 654.1L683.2 668.8L686.3 672.6L689.4 649.0L692.5 642.4L695.1 645.3L698.2 619.4L702.6 611.7L705.7 609.5L708.8 611.7L711.4 605.7L714.5 606.2L717.6 601.8L720.2 624.8L723.3 625.5L726.4 635.2L729.0 622.7L732.1 640.2L735.2 636.9L738.3 629.2L741.3 618.9L744.8 598.5L747.9 602.9L751.0 624.8L754.1 634.7L757.2 636.9L760.2 643.5L763.3 652.3L766.4 636.9L769.0 603.5L772.1 601.8L775.2 599.6L778.3 598.5L781.3 588.6L784.9 565.5L787.9 571.0L791.0 567.7L794.1 591.9L797.2 583.7L800.2 587.5L803.3 592.5L806.4 589.7L809.5 585.3L812.6 580.9L815.2 572.8L818.7 572.1L821.8 581.5L824.9 582.0L827.5 618.3L830.6 625.5L833.7 612.3L836.7 612.8L839.8 607.3L842.9 613.9L846.0 612.3L849.0 621.6L852.1 621.6L855.6 611.0L858.7 622.7L861.8 612.8L864.9 610.1L867.9 605.7L871.0 633.6L874.1 638.0L877.2 619.8L880.3 625.9L883.3 621.1L886.4 620.5L889.1 609.5L892.1 603.5L896.1 603.5L899.2 642.4L902.2 656.7L905.3 655.6L908.4 658.9L911.5 668.2L914.6 669.9L917.6 649.0L920.3 645.7L923.3 663.3L926.4 671.0L930.0 666.0L933.1 672.6L935.7 677.6L938.8 672.1L941.9 665.1L944.9 651.2L948.0 645.3L951.1 644.6L953.7 643.5L956.8 623.3L959.9 654.5L963.0 665.5L966.1 676.5L969.1 665.1L972.2 664.4L975.3 665.5L978.8 665.5L981.9 649.0L985.0 632.5L988.0 634.7L990.7 618.3L994.2 616.7L997.3 636.9L1000.3 633.6L1003.0 618.3L1006.9 632.5L1010.0 631.4L1013.1 628.1L1016.2 629.2L1019.3 642.4L1022.3 646.2L1025.4 650.6L1028.0 635.8L1031.1 633.6L1034.2 646.8L1037.3 658.9L1039.9 674.3L1043.0 654.1L1046.1 668.2L1049.1 674.8L1052.2 676.1L1055.3 676.1L1058.4 676.5L1061.9 676.5L1065.0 668.8L1068.1 678.7L1071.1 662.9L1074.2 669.9L1076.8 663.8L1079.9 663.3L1083.0 671.0L1086.1 674.3L1089.2 675.4L1092.2 665.5L1095.8 652.8L1098.8 667.3L1103.6 666.5L1106.4 684.7L1109.1 703.0L1113.7 723.9L1116.4 719.3L1119.1 720.3L1121.9 720.8L1124.6 706.6L1127.3 652.3L1130.1 684.7L1132.8 677.1L1136.1 662.9L1138.6 665.6L1141.5 675.6L1144.1 679.3L1147.4 693.8L1151.0 702.6L1153.7 682.0L1156.5 678.4L1159.2 680.2L1161.6 686.6L1164.1 673.8L1167.0 670.2L1169.6 677.4L1172.5 670.2L1175.1 675.6L1178.7 655.2L1181.3 664.7L1183.8 666.5L1188.4 668.3L1191.6 660.1" stroke="#7e57c2" stroke-width="3" fill="none" stroke-linejoin="round" stroke-linecap="round"/>
<path d="M10 604.5H1275" stroke="#787b86" stroke-width="1" stroke-dasharray="5 6" fill="none"/>
<path d="M10 708.5H1275" stroke="#787b86" stroke-width="1" stroke-dasharray="5 6" fill="none"/>
<path d="M10 656.5H1275" stroke="#787b86" stroke-opacity="0.5" stroke-width="1" stroke-dasharray="5 6" fill="none"/>
<path d="M11.1 587.5C12.4 587.1 16.2 586.2 19.0 585.3C21.8 584.4 24.9 582.1 27.8 582.0C30.7 581.9 33.6 582.4 36.6 584.6C39.5 586.8 42.4 591.4 45.4 595.2C48.3 598.9 51.2 603.5 54.2 607.3C57.1 611.0 60.0 613.9 63.0 617.6C65.9 621.3 68.8 625.8 71.8 629.2C74.7 632.7 78.3 636.1 80.5 638.0C82.7 640.0 82.7 640.4 84.9 640.9C87.1 641.4 90.8 640.5 93.7 640.9C96.7 641.3 99.6 642.9 102.5 643.1C105.5 643.2 108.4 641.9 111.3 641.8C114.3 641.7 117.5 642.0 120.1 642.4C122.7 642.9 124.1 643.2 126.7 644.6C129.3 646.1 132.6 649.2 135.5 651.2C138.4 653.2 141.4 655.0 144.3 656.7C147.2 658.4 150.2 660.3 153.1 661.6C156.0 662.8 158.9 663.5 161.9 664.4C164.8 665.4 167.7 666.7 170.7 667.3C173.6 667.9 176.5 667.6 179.5 668.2C182.4 668.7 185.3 670.1 188.3 670.4C191.2 670.6 194.1 669.4 197.1 669.5C200.0 669.6 202.9 670.6 205.8 671.0C208.8 671.4 211.7 671.9 214.6 671.7C217.6 671.5 220.9 671.0 223.4 669.9C226.0 668.8 227.8 667.0 230.0 665.1C232.2 663.2 235.0 659.9 236.6 658.5C238.3 657.1 238.0 658.5 240.0 656.7C242.0 655.0 245.9 650.3 248.8 647.9C251.7 645.5 255.0 644.3 257.6 642.4C260.2 640.6 262.2 638.3 264.2 636.9C266.2 635.5 267.5 634.4 269.7 634.1C271.9 633.8 274.6 634.5 277.4 635.2C280.1 635.8 283.6 637.5 286.2 638.0C288.7 638.6 290.6 638.8 292.8 638.7C295.0 638.6 296.8 637.2 299.4 637.4C301.9 637.5 305.2 638.7 308.1 639.6C311.1 640.4 314.0 641.1 316.9 642.4C319.9 643.8 323.2 646.0 325.7 647.5C328.3 649.0 330.1 649.1 332.3 651.2C334.5 653.3 336.7 657.3 338.9 660.0C341.1 662.8 343.3 664.6 345.5 667.7C347.7 670.8 349.9 675.8 352.1 678.7C354.3 681.6 356.5 683.5 358.7 685.3C360.9 687.1 363.1 688.7 365.3 689.7C367.5 690.7 369.3 691.2 371.9 691.5C374.5 691.8 377.8 690.8 380.7 691.5C383.6 692.1 386.9 694.8 389.5 695.2C392.0 695.6 393.9 694.6 396.1 694.1C398.3 693.5 400.5 692.4 402.7 691.9C404.9 691.3 407.1 691.7 409.3 690.8C411.5 689.9 413.7 688.2 415.9 686.4C418.1 684.6 420.3 682.7 422.5 679.8C424.7 676.9 426.9 673.4 429.1 668.8C431.3 664.2 433.4 656.7 435.6 652.3C437.8 647.9 440.0 645.4 442.2 642.4C444.4 639.5 446.8 637.3 448.8 634.7C450.9 632.2 452.7 628.7 454.3 627.0C456.0 625.4 457.1 624.8 458.7 624.8C460.4 624.8 462.4 626.3 464.2 627.0C466.1 627.8 467.7 626.7 469.7 629.2C471.8 631.8 474.4 638.2 476.6 642.4C478.8 646.6 481.0 651.2 483.2 654.5C485.4 657.8 487.6 659.8 489.8 662.2C492.0 664.6 494.2 666.7 496.4 668.8C498.6 670.9 500.8 673.2 503.0 674.8C505.2 676.3 507.7 677.4 509.6 678.3C511.4 679.1 512.1 680.1 514.0 679.8C515.8 679.5 518.4 678.2 520.6 676.5C522.8 674.9 525.1 671.7 527.2 669.9C529.2 668.1 531.2 666.3 532.7 665.5C534.1 664.7 534.3 666.0 535.9 665.1C537.6 664.2 540.7 661.4 542.5 660.0C544.4 658.6 545.3 657.2 546.9 656.7C548.6 656.2 550.6 657.3 552.4 657.2C554.3 657.1 555.9 656.1 557.9 656.1C559.9 656.0 562.3 656.3 564.5 656.7C566.7 657.1 568.9 657.6 571.1 658.5C573.3 659.4 575.5 660.1 577.7 662.2C579.9 664.3 582.3 668.8 584.3 671.0C586.3 673.2 588.0 674.7 589.8 675.4C591.6 676.1 593.3 675.8 595.3 675.4C597.3 675.0 599.7 674.3 601.9 673.2C604.1 672.1 606.7 669.7 608.5 668.8C610.3 667.9 611.1 668.8 612.9 667.7C614.7 666.6 617.3 664.8 619.5 662.2C621.7 659.7 623.9 655.4 626.1 652.3C628.3 649.2 630.5 646.3 632.7 643.5C634.9 640.8 637.1 638.0 639.3 635.8C641.5 633.6 643.8 632.1 645.9 630.3C647.9 628.6 649.9 626.5 651.4 625.5C652.8 624.5 652.6 623.2 654.7 624.2C656.7 625.2 660.5 629.4 663.4 631.4C666.4 633.5 669.7 634.9 672.2 636.5C674.8 638.1 676.6 639.0 678.8 640.9C681.0 642.8 683.4 645.8 685.4 647.9C687.4 650.0 689.1 652.1 690.9 653.4C692.8 654.7 694.9 656.1 696.4 655.6C697.9 655.1 697.9 653.1 700.0 650.6C702.1 648.0 705.9 643.4 708.8 640.2C711.7 637.0 715.0 633.6 717.6 631.4C720.2 629.2 722.2 628.6 724.2 627.0C726.2 625.5 727.5 623.1 729.7 622.0C731.9 620.9 735.0 621.0 737.4 620.5C739.8 619.9 742.1 619.1 744.0 618.7C745.8 618.3 746.5 617.6 748.4 618.3C750.2 618.9 752.8 621.1 755.0 622.7C757.2 624.2 759.7 626.6 761.6 627.7C763.4 628.8 764.1 629.7 765.9 629.2C767.8 628.8 770.3 626.5 772.5 624.8C774.7 623.2 776.9 621.4 779.1 619.4C781.3 617.3 783.2 615.0 785.7 612.8C788.3 610.5 792.0 608.5 794.5 605.7C797.1 603.0 798.9 599.1 801.1 596.3C803.3 593.4 805.5 590.7 807.7 588.6C809.9 586.5 812.3 584.9 814.3 583.7C816.3 582.6 818.0 582.0 819.8 581.5C821.6 581.1 823.3 579.5 825.3 580.9C827.3 582.2 829.7 587.5 831.9 589.7C834.1 591.9 836.3 592.8 838.5 594.1C840.7 595.4 842.5 595.8 845.1 597.4C847.7 598.9 851.3 601.3 853.9 603.5C856.4 605.7 858.3 608.7 860.5 610.6C862.7 612.4 864.9 613.4 867.1 614.5C869.3 615.6 871.5 616.4 873.7 617.2C875.9 617.9 878.1 618.5 880.3 618.9C882.5 619.4 884.7 620.0 886.9 619.8C889.1 619.6 891.8 618.0 893.4 617.6C895.1 617.2 895.3 616.4 896.7 617.2C898.2 617.9 900.4 620.2 902.2 622.0C904.1 623.8 905.9 626.0 907.7 628.1C909.6 630.3 911.4 633.2 913.2 634.7C915.1 636.3 916.9 636.1 918.7 637.4C920.6 638.7 922.6 640.8 924.2 642.4C925.9 644.1 926.9 645.1 928.6 647.5C930.3 649.9 932.7 654.3 934.4 656.7C936.1 659.2 937.3 661.1 938.8 662.2C940.3 663.3 941.4 663.4 943.2 663.3C945.0 663.2 947.6 662.7 949.8 661.6C952.0 660.5 954.2 657.2 956.4 656.7C958.6 656.3 960.8 658.6 963.0 658.9C965.2 659.3 967.4 659.1 969.6 658.9C971.8 658.7 974.0 658.6 976.2 657.8C978.4 657.1 980.6 655.7 982.8 654.5C985.0 653.3 987.3 651.7 989.4 650.6C991.4 649.5 993.0 648.2 994.8 647.9C996.7 647.7 998.3 649.8 1000.3 649.0C1002.4 648.3 1004.7 645.5 1006.9 643.5C1009.1 641.5 1011.3 638.8 1013.5 636.9C1015.7 635.1 1017.9 633.3 1020.1 632.5C1022.3 631.7 1024.7 632.0 1026.7 632.1C1028.7 632.2 1030.4 632.0 1032.2 633.0C1034.1 634.0 1035.7 636.3 1037.7 638.0C1039.7 639.8 1042.1 641.5 1044.3 643.5C1046.5 645.5 1048.7 647.9 1050.9 650.1C1053.1 652.3 1055.3 654.8 1057.5 656.7C1059.7 658.6 1061.9 660.1 1064.1 661.6C1066.3 663.0 1068.5 664.1 1070.7 665.5C1072.9 666.9 1075.1 669.0 1077.3 669.9C1079.5 670.8 1081.7 670.6 1083.9 671.0C1086.1 671.4 1088.3 672.5 1090.5 672.1C1092.7 671.7 1095.5 669.3 1097.1 668.8C1098.7 668.3 1098.6 669.2 1100.0 669.2C1101.4 669.3 1103.6 668.5 1105.5 669.2C1107.3 670.0 1109.1 671.9 1110.9 673.8C1112.8 675.7 1114.3 678.6 1116.4 680.7C1118.5 682.9 1121.3 685.7 1123.7 686.6C1126.1 687.4 1128.5 685.6 1131.0 685.6C1133.4 685.6 1136.1 686.1 1138.3 686.6C1140.4 687.0 1141.8 687.6 1143.7 688.4C1145.7 689.1 1148.0 691.4 1150.1 691.1C1152.2 690.8 1154.5 688.1 1156.5 686.6C1158.5 685.0 1160.1 683.3 1161.9 682.0C1163.8 680.7 1165.6 679.5 1167.4 678.9C1169.2 678.3 1170.7 678.7 1172.9 678.4C1175.0 678.1 1177.9 677.5 1180.2 677.1C1182.4 676.7 1184.8 676.5 1186.5 676.0C1188.3 675.4 1189.9 674.2 1190.5 673.8" stroke="#fce038" stroke-width="1.1" fill="none" stroke-linejoin="round"/>
<path d="M1113.7 729.2L1220.3 666.3" stroke="#173d8c" stroke-width="3" fill="none"/>
<path d="M1067.5 606.5H1180a6 6 0 0 1 6 6V633a6 6 0 0 1 -6 6H1131.2L1166.8 676L1115.3 639H1067.5a6 6 0 0 1 -6 -6V612.5a6 6 0 0 1 6 -6z" fill="#f23645" fill-opacity="0.012" stroke="#ab2434" stroke-width="1.5" stroke-linejoin="round"/>
<text x="1072" y="625.7" font-size="12" fill="#ab2434" stroke="#ab2434" stroke-width="0.2" textLength="40.1" lengthAdjust="spacingAndGlyphs">Positive</text><text x="1117.4" y="625.7" font-size="12" fill="#ab2434" stroke="#ab2434" stroke-width="0.2" textLength="57.8" lengthAdjust="spacingAndGlyphs">divergence</text>
</g>
<text x="10.6" y="19.0" font-size="13" fill="#131722" textLength="59.1" lengthAdjust="spacingAndGlyphs" stroke="#131722" stroke-width="0.22">ranadagger</text>
<text x="74.7" y="19.0" font-size="13" fill="#131722" textLength="48.8" lengthAdjust="spacingAndGlyphs" stroke="#131722" stroke-width="0.22">published</text>
<text x="129.0" y="19.0" font-size="13" fill="#131722" textLength="12.6" lengthAdjust="spacingAndGlyphs" stroke="#131722" stroke-width="0.22">on</text>
<text x="145.8" y="19.0" font-size="13" fill="#131722" textLength="92.8" lengthAdjust="spacingAndGlyphs" stroke="#131722" stroke-width="0.22">TradingView.com,</text>
<text x="244.2" y="19.0" font-size="13" fill="#131722" textLength="19.5" lengthAdjust="spacingAndGlyphs" stroke="#131722" stroke-width="0.22">Mar</text>
<text x="268.4" y="19.0" font-size="13" fill="#131722" textLength="15.4" lengthAdjust="spacingAndGlyphs" stroke="#131722" stroke-width="0.22">23,</text>
<text x="288.0" y="19.0" font-size="13" fill="#131722" textLength="24.5" lengthAdjust="spacingAndGlyphs" stroke="#131722" stroke-width="0.22">2025</text>
<text x="317.2" y="19.0" font-size="13" fill="#131722" textLength="28.5" lengthAdjust="spacingAndGlyphs" stroke="#131722" stroke-width="0.22">16:18</text>
<text x="350.7" y="19.0" font-size="13" fill="#131722" textLength="20.1" lengthAdjust="spacingAndGlyphs" stroke="#131722" stroke-width="0.22">UTC</text>
<text x="18.4" y="45.8" font-size="12" fill="#131722" textLength="36.4" lengthAdjust="spacingAndGlyphs" stroke="#131722" stroke-width="0.22">Bitcoin</text>
<text x="60.2" y="45.8" font-size="12" fill="#131722" textLength="5.3" lengthAdjust="spacingAndGlyphs" stroke="#131722" stroke-width="0.22">/</text>
<text x="69.4" y="45.8" font-size="12" fill="#131722" textLength="47.0" lengthAdjust="spacingAndGlyphs" stroke="#131722" stroke-width="0.22">TetherUS</text>
<text x="121.3" y="45.8" font-size="12" fill="#131722" textLength="2.6" lengthAdjust="spacingAndGlyphs" stroke="#131722" stroke-width="0.22">·</text>
<text x="129.6" y="45.8" font-size="12" fill="#131722" textLength="11.7" lengthAdjust="spacingAndGlyphs" stroke="#131722" stroke-width="0.22">1D</text>
<text x="146.4" y="45.8" font-size="12" fill="#131722" textLength="2.6" lengthAdjust="spacingAndGlyphs" stroke="#131722" stroke-width="0.22">·</text>
<text x="154.5" y="45.8" font-size="12" fill="#131722" textLength="44.8" lengthAdjust="spacingAndGlyphs" stroke="#131722" stroke-width="0.22">BINANCE</text>
<text x="207.6" y="45.8" font-size="12" fill="#131722" textLength="7.2" lengthAdjust="spacingAndGlyphs" stroke="#131722" stroke-width="0.22">O</text>
<text x="215.4" y="45.8" font-size="12" fill="#22ab94" textLength="52.8" lengthAdjust="spacingAndGlyphs" stroke="#22ab94" stroke-width="0.22">83,840.59</text>
<text x="275.8" y="45.8" font-size="12" fill="#131722" textLength="6.8" lengthAdjust="spacingAndGlyphs" stroke="#131722" stroke-width="0.22">H</text>
<text x="283.2" y="45.8" font-size="12" fill="#22ab94" textLength="52.4" lengthAdjust="spacingAndGlyphs" stroke="#22ab94" stroke-width="0.22">85,342.01</text>
<text x="343.6" y="45.8" font-size="12" fill="#131722" textLength="5.6" lengthAdjust="spacingAndGlyphs" stroke="#131722" stroke-width="0.22">L</text>
<text x="349.8" y="45.8" font-size="12" fill="#22ab94" textLength="52.4" lengthAdjust="spacingAndGlyphs" stroke="#22ab94" stroke-width="0.22">83,809.75</text>
<text x="409.4" y="45.8" font-size="12" fill="#131722" textLength="6.8" lengthAdjust="spacingAndGlyphs" stroke="#131722" stroke-width="0.22">C</text>
<text x="416.8" y="45.8" font-size="12" fill="#22ab94" textLength="52.6" lengthAdjust="spacingAndGlyphs" stroke="#22ab94" stroke-width="0.22">85,235.30</text>
<text x="477.1" y="45.8" font-size="12" fill="#22ab94" textLength="51.9" lengthAdjust="spacingAndGlyphs" stroke="#22ab94" stroke-width="0.22">+1,394.71</text>
<text x="534.2" y="45.8" font-size="12" fill="#22ab94" textLength="44.6" lengthAdjust="spacingAndGlyphs" stroke="#22ab94" stroke-width="0.22">(+1.66%)</text>
<text x="18.4" y="63.0" font-size="12" fill="#131722" textLength="21.3" lengthAdjust="spacingAndGlyphs" stroke="#131722" stroke-width="0.22">EMA</text>
<text x="44.6" y="63.0" font-size="12" fill="#131722" textLength="18.2" lengthAdjust="spacingAndGlyphs" stroke="#131722" stroke-width="0.22">(20,</text>
<text x="69.0" y="63.0" font-size="12" fill="#131722" textLength="31.2" lengthAdjust="spacingAndGlyphs" stroke="#131722" stroke-width="0.22">close)</text>
<text x="107.5" y="63.0" font-size="12" fill="#2962ff" textLength="52.8" lengthAdjust="spacingAndGlyphs" stroke="#2962ff" stroke-width="0.22">85,246.93</text>
<text x="18.4" y="79.8" font-size="12" fill="#131722" textLength="20.2" lengthAdjust="spacingAndGlyphs" stroke="#131722" stroke-width="0.22">SMA</text>
<text x="43.5" y="79.8" font-size="12" fill="#131722" textLength="18.7" lengthAdjust="spacingAndGlyphs" stroke="#131722" stroke-width="0.22">(50,</text>
<text x="67.9" y="79.8" font-size="12" fill="#131722" textLength="31.2" lengthAdjust="spacingAndGlyphs" stroke="#131722" stroke-width="0.22">close)</text>
<text x="107.0" y="79.8" font-size="12" fill="#f23645" textLength="52.8" lengthAdjust="spacingAndGlyphs" stroke="#f23645" stroke-width="0.22">90,469.93</text>
<text x="18.4" y="96.8" font-size="12" fill="#131722" textLength="20.2" lengthAdjust="spacingAndGlyphs" stroke="#131722" stroke-width="0.22">SMA</text>
<text x="43.5" y="96.8" font-size="12" fill="#131722" textLength="24.8" lengthAdjust="spacingAndGlyphs" stroke="#131722" stroke-width="0.22">(200,</text>
<text x="74.3" y="96.8" font-size="12" fill="#131722" textLength="30.8" lengthAdjust="spacingAndGlyphs" stroke="#131722" stroke-width="0.22">close)</text>
<text x="113.5" y="96.8" font-size="12" fill="#9c27b0" textLength="52.4" lengthAdjust="spacingAndGlyphs" stroke="#9c27b0" stroke-width="0.22">84,899.37</text>
<text x="18.6" y="575.6" font-size="12" fill="#131722" textLength="15.3" lengthAdjust="spacingAndGlyphs" stroke="#131722" stroke-width="0.22">RSI</text>
<text x="38.8" y="575.6" font-size="12" fill="#131722" textLength="18.0" lengthAdjust="spacingAndGlyphs" stroke="#131722" stroke-width="0.22">(14,</text>
<text x="63.0" y="575.6" font-size="12" fill="#131722" textLength="30.7" lengthAdjust="spacingAndGlyphs" stroke="#131722" stroke-width="0.22">close)</text>
<text x="102.1" y="575.6" font-size="12" fill="#7e57c2" textLength="28.6" lengthAdjust="spacingAndGlyphs" stroke="#7e57c2" stroke-width="0.22">48.03</text>
<text x="138.8" y="575.6" font-size="12" fill="#fcd734" textLength="28.6" lengthAdjust="spacingAndGlyphs" stroke="#fcd734" stroke-width="0.22">43.13</text>
<text x="175.5" y="575.6" font-size="12" fill="#131722" textLength="7.4" lengthAdjust="spacingAndGlyphs" stroke="#131722" stroke-width="0.22">∅</text>
<text x="190.9" y="575.6" font-size="12" fill="#131722" textLength="7.4" lengthAdjust="spacingAndGlyphs" stroke="#131722" stroke-width="0.22">∅</text>
<text x="206.3" y="575.6" font-size="12" fill="#131722" textLength="7.4" lengthAdjust="spacingAndGlyphs" stroke="#131722" stroke-width="0.22">∅</text>
<text x="221.7" y="575.6" font-size="12" fill="#131722" textLength="7.4" lengthAdjust="spacingAndGlyphs" stroke="#131722" stroke-width="0.22">∅</text>
<text x="85.2" y="750.8" font-size="12" fill="#131722" textLength="18.5" lengthAdjust="spacingAndGlyphs" stroke="#131722" stroke-width="0.22">Apr</text>
<text x="177.2" y="750.8" font-size="12" fill="#131722" textLength="20.7" lengthAdjust="spacingAndGlyphs" stroke="#131722" stroke-width="0.22">May</text>
<text x="273.3" y="750.8" font-size="12" fill="#131722" textLength="18.4" lengthAdjust="spacingAndGlyphs" stroke="#131722" stroke-width="0.22">Jun</text>
<text x="367.9" y="750.8" font-size="12" fill="#131722" textLength="15.2" lengthAdjust="spacingAndGlyphs" stroke="#131722" stroke-width="0.22">Jul</text>
<text x="460.8" y="750.8" font-size="12" fill="#131722" textLength="19.4" lengthAdjust="spacingAndGlyphs" stroke="#131722" stroke-width="0.22">Aug</text>
<text x="556.7" y="750.8" font-size="12" fill="#131722" textLength="19.6" lengthAdjust="spacingAndGlyphs" stroke="#131722" stroke-width="0.22">Sep</text>
<text x="649.6" y="750.8" font-size="12" fill="#131722" textLength="17.8" lengthAdjust="spacingAndGlyphs" stroke="#131722" stroke-width="0.22">Oct</text>
<text x="744.5" y="750.8" font-size="12" fill="#131722" textLength="20.0" lengthAdjust="spacingAndGlyphs" stroke="#131722" stroke-width="0.22">Nov</text>
<text x="836.6" y="750.8" font-size="12" fill="#131722" textLength="19.8" lengthAdjust="spacingAndGlyphs" stroke="#131722" stroke-width="0.22">Dec</text>
<text x="929.3" y="750.8" font-size="12" fill="#131722" textLength="26.4" lengthAdjust="spacingAndGlyphs" font-weight="bold">2025</text>
<text x="1027.7" y="750.8" font-size="12" fill="#131722" textLength="19.7" lengthAdjust="spacingAndGlyphs" stroke="#131722" stroke-width="0.22">Feb</text>
<text x="1114.6" y="750.8" font-size="12" fill="#131722" textLength="19.8" lengthAdjust="spacingAndGlyphs" stroke="#131722" stroke-width="0.22">Mar</text>
<text x="1210.2" y="750.8" font-size="12" fill="#131722" textLength="18.5" lengthAdjust="spacingAndGlyphs" stroke="#131722" stroke-width="0.22">Apr</text>
<text x="1284.7" y="550.1" font-size="12" fill="#131722" textLength="51.9" lengthAdjust="spacingAndGlyphs" stroke="#131722" stroke-width="0.22">35,000.00</text>
<text x="1284.7" y="517.0" font-size="12" fill="#131722" textLength="51.9" lengthAdjust="spacingAndGlyphs" stroke="#131722" stroke-width="0.22">40,000.00</text>
<text x="1284.7" y="483.9" font-size="12" fill="#131722" textLength="51.9" lengthAdjust="spacingAndGlyphs" stroke="#131722" stroke-width="0.22">45,000.00</text>
<text x="1284.7" y="450.9" font-size="12" fill="#131722" textLength="51.9" lengthAdjust="spacingAndGlyphs" stroke="#131722" stroke-width="0.22">50,000.00</text>
<text x="1284.7" y="417.8" font-size="12" fill="#131722" textLength="51.9" lengthAdjust="spacingAndGlyphs" stroke="#131722" stroke-width="0.22">55,000.00</text>
<text x="1284.7" y="384.7" font-size="12" fill="#131722" textLength="51.9" lengthAdjust="spacingAndGlyphs" stroke="#131722" stroke-width="0.22">60,000.00</text>
<text x="1284.7" y="351.6" font-size="12" fill="#131722" textLength="51.9" lengthAdjust="spacingAndGlyphs" stroke="#131722" stroke-width="0.22">65,000.00</text>
<text x="1284.7" y="318.6" font-size="12" fill="#131722" textLength="51.9" lengthAdjust="spacingAndGlyphs" stroke="#131722" stroke-width="0.22">70,000.00</text>
<text x="1284.7" y="285.5" font-size="12" fill="#131722" textLength="51.9" lengthAdjust="spacingAndGlyphs" stroke="#131722" stroke-width="0.22">75,000.00</text>
<text x="1284.7" y="153.2" font-size="12" fill="#131722" textLength="51.9" lengthAdjust="spacingAndGlyphs" stroke="#131722" stroke-width="0.22">95,000.00</text>
<text x="1284.7" y="120.2" font-size="12" fill="#131722" textLength="57.9" lengthAdjust="spacingAndGlyphs" stroke="#131722" stroke-width="0.22">100,000.00</text>
<text x="1284.7" y="87.1" font-size="12" fill="#131722" textLength="57.9" lengthAdjust="spacingAndGlyphs" stroke="#131722" stroke-width="0.22">105,000.00</text>
<text x="1284.2" y="581.4" font-size="12" fill="#131722" textLength="29.0" lengthAdjust="spacingAndGlyphs" stroke="#131722" stroke-width="0.22">80.00</text>
<text x="1284.2" y="633.7" font-size="12" fill="#131722" textLength="29.0" lengthAdjust="spacingAndGlyphs" stroke="#131722" stroke-width="0.22">60.00</text>
<rect x="1279" y="31.2" width="69.6" height="26" rx="4.5" fill="#fff" stroke="#ededed" stroke-width="1.3"/>
<text x="1288.4" y="48.6" font-size="12" fill="#131722" textLength="27.6" lengthAdjust="spacingAndGlyphs" stroke="#131722" stroke-width="0.22">USDT</text>
<path d="M1276 61.5H1348.5" stroke="#0000ff" stroke-width="1" fill="none"/>
<path d="M1227.5 172.0H1275V188.6H1227.5a2.5 2.5 0 0 1 -2.5 -2.5V174.5a2.5 2.5 0 0 1 2.5 -2.5z" fill="#f23645"/>
<path d="M1276 172.0H1339.5a2.5 2.5 0 0 1 2.5 2.5V186.2a2.5 2.5 0 0 1 -2.5 2.5H1276z" fill="#f23645"/>
<text x="1229.8" y="184.1" font-size="12" fill="#fff" textLength="41.4" lengthAdjust="spacingAndGlyphs" stroke="#fff" stroke-width="0.3">SMA:MA</text>
<text x="1284.2" y="184.1" font-size="12" fill="#fff" textLength="52.2" lengthAdjust="spacingAndGlyphs" stroke="#fff" stroke-width="0.3">90,469.93</text>
<path d="M1246.5 190.0H1275V206.6H1246.5a2.5 2.5 0 0 1 -2.5 -2.5V192.5a2.5 2.5 0 0 1 2.5 -2.5z" fill="#2962ff"/>
<path d="M1276 190.0H1339.5a2.5 2.5 0 0 1 2.5 2.5V204.1a2.5 2.5 0 0 1 -2.5 2.5H1276z" fill="#2962ff"/>
<text x="1248.6" y="202.1" font-size="12" fill="#fff" textLength="22.6" lengthAdjust="spacingAndGlyphs" stroke="#fff" stroke-width="0.3">EMA</text>
<text x="1284.2" y="202.1" font-size="12" fill="#fff" textLength="52.2" lengthAdjust="spacingAndGlyphs" stroke="#fff" stroke-width="0.3">85,246.93</text>
<path d="M1220.5 207.3H1275V223.9H1220.5a2.5 2.5 0 0 1 -2.5 -2.5V209.8a2.5 2.5 0 0 1 2.5 -2.5z" fill="#26a69a"/>
<path d="M1276 207.3H1339.5a2.5 2.5 0 0 1 2.5 2.5V249.3a2.5 2.5 0 0 1 -2.5 2.5H1276z" fill="#26a69a"/>
<text x="1222.2" y="219.4" font-size="12" fill="#fff" textLength="48.0" lengthAdjust="spacingAndGlyphs" stroke="#fff" stroke-width="0.3">BTCUSDT</text>
<text x="1284.2" y="219.4" font-size="12" fill="#fff" textLength="52.2" lengthAdjust="spacingAndGlyphs" stroke="#fff" stroke-width="0.3">85,235.30</text>
<text x="1284.2" y="232.6" font-size="12" fill="#fff" textLength="42.4" lengthAdjust="spacingAndGlyphs" stroke="#fff" stroke-width="0.3">+24.89%</text>
<text x="1284.2" y="246.8" font-size="12" fill="#fff" textLength="46.4" lengthAdjust="spacingAndGlyphs" stroke="#fff" stroke-width="0.3" fill-opacity="0.72">07:41:50</text>
<path d="M1227.5 252.3H1275V268.9H1227.5a2.5 2.5 0 0 1 -2.5 -2.5V254.8a2.5 2.5 0 0 1 2.5 -2.5z" fill="#9c27b0"/>
<path d="M1276 252.3H1339.5a2.5 2.5 0 0 1 2.5 2.5V266.4a2.5 2.5 0 0 1 -2.5 2.5H1276z" fill="#9c27b0"/>
<text x="1229.8" y="264.4" font-size="12" fill="#fff" textLength="41.4" lengthAdjust="spacingAndGlyphs" stroke="#fff" stroke-width="0.3">SMA:MA</text>
<text x="1284.2" y="264.4" font-size="12" fill="#fff" textLength="52.2" lengthAdjust="spacingAndGlyphs" stroke="#fff" stroke-width="0.3">84,899.37</text>
<path d="M1276 283H1339.5a2.5 2.5 0 0 1 2.5 2.5V297.3a2.5 2.5 0 0 1 -2.5 2.5H1276z" fill="#0000ff"/>
<text x="1284.2" y="295.4" font-size="12" fill="#fff" textLength="52.2" lengthAdjust="spacingAndGlyphs" stroke="#fff" stroke-width="0.3">73,777.00</text>
<path d="M1252.5 653.2H1275V669.6H1252.5a2.5 2.5 0 0 1 -2.5 -2.5V655.7a2.5 2.5 0 0 1 2.5 -2.5z" fill="#7e57c2"/>
<path d="M1276 653.2H1316.5a2.5 2.5 0 0 1 2.5 2.5V667.1a2.5 2.5 0 0 1 -2.5 2.5H1276z" fill="#7e57c2"/>
<text x="1255.2" y="665.6" font-size="12" fill="#fff" textLength="15.8" lengthAdjust="spacingAndGlyphs" stroke="#fff" stroke-width="0.3">RSI</text>
<text x="1284.2" y="665.6" font-size="12" fill="#fff" textLength="29.0" lengthAdjust="spacingAndGlyphs" stroke="#fff" stroke-width="0.3">48.03</text>
<path d="M1198.7 670.3H1275V686.7H1198.7a2.5 2.5 0 0 1 -2.5 -2.5V672.8a2.5 2.5 0 0 1 2.5 -2.5z" fill="#ffeb3b"/>
<path d="M1276 670.3H1316.5a2.5 2.5 0 0 1 2.5 2.5V684.2a2.5 2.5 0 0 1 -2.5 2.5H1276z" fill="#ffeb3b"/>
<text x="1200.7" y="682.6" font-size="12" fill="#131722" textLength="53.2" lengthAdjust="spacingAndGlyphs" stroke="#131722" stroke-width="0.22">RSI-based</text>
<text x="1256.1" y="682.6" font-size="12" fill="#131722" textLength="14.8" lengthAdjust="spacingAndGlyphs" stroke="#131722" stroke-width="0.22">MA</text>
<text x="1284.2" y="682.6" font-size="12" fill="#131722" textLength="29.0" lengthAdjust="spacingAndGlyphs" stroke="#131722" stroke-width="0.22">43.13</text>
<path d="M10 773H18V783H13.4V777.2H10z" fill="#131722"/><circle cx="21.1" cy="775" r="2" fill="#131722"/><path d="M24 773H30L26.4 783H21.1z" fill="#131722"/>
<text x="33.2" y="782.9" font-size="13.4" fill="#131722" textLength="69.8" lengthAdjust="spacingAndGlyphs">TradingView</text>
</svg></body></html>
